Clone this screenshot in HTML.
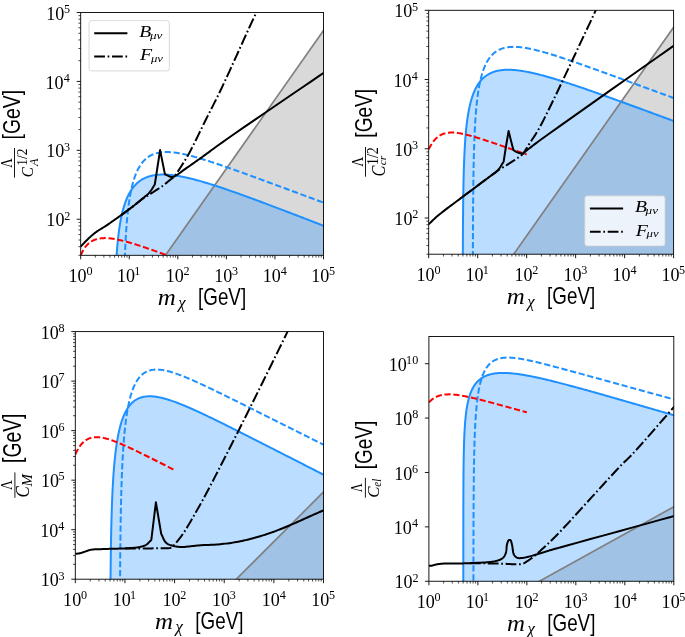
<!DOCTYPE html>
<html><head><meta charset="utf-8"><style>html,body{margin:0;padding:0;background:#fff;width:685px;height:637px;overflow:hidden}svg{display:block;will-change:transform}</style></head>
<body>
<svg width="685" height="637" viewBox="0 0 685 637">
<rect width="685" height="637" fill="#fff"/>
<defs>
<clipPath id="c0"><rect x="80.70" y="12.50" width="242.80" height="242.80"/></clipPath>
<clipPath id="c1"><rect x="428.70" y="10.30" width="244.90" height="243.90"/></clipPath>
<clipPath id="c2"><rect x="75.30" y="331.60" width="248.20" height="247.60"/></clipPath>
<clipPath id="c3"><rect x="428.90" y="336.50" width="244.90" height="244.75"/></clipPath>
</defs>
<g clip-path="url(#c0)">
<polygon points="161.28,261.30 340.37,6.50 723.50,6.50 723.50,261.30" fill="#808080" fill-opacity="0.3"/>
<path d="M113.82 275.98 L114.44 275.98 L115.07 275.98 L115.53 275.32 L115.60 273.76 L115.66 272.23 L115.73 270.72 L115.80 269.23 L115.87 267.75 L115.95 266.30 L116.02 264.87 L116.10 263.46 L116.18 262.06 L116.26 260.69 L116.34 259.33 L116.42 257.99 L116.51 256.66 L116.60 255.36 L116.69 254.07 L116.78 252.79 L116.87 251.54 L116.97 250.30 L117.06 249.07 L117.16 247.86 L117.26 246.66 L117.37 245.48 L117.47 244.32 L117.58 243.17 L117.69 242.03 L117.80 240.90 L117.91 239.80 L118.03 238.70 L118.15 237.62 L118.27 236.55 L118.39 235.49 L118.51 234.45 L118.64 233.42 L118.77 232.40 L118.90 231.39 L119.04 230.40 L119.17 229.41 L119.31 228.44 L119.45 227.49 L119.59 226.54 L119.74 225.60 L119.89 224.68 L120.04 223.77 L120.19 222.87 L120.34 221.97 L120.50 221.09 L120.66 220.23 L120.83 219.37 L120.99 218.52 L121.16 217.68 L121.33 216.85 L121.50 216.04 L121.68 215.23 L121.86 214.43 L122.04 213.64 L122.22 212.87 L122.41 212.10 L122.60 211.34 L122.79 210.59 L122.99 209.85 L123.18 209.12 L123.38 208.40 L123.59 207.69 L123.79 206.99 L124.00 206.29 L124.22 205.61 L124.43 204.93 L124.65 204.27 L124.87 203.61 L125.09 202.96 L125.32 202.32 L125.55 201.69 L125.78 201.06 L126.02 200.45 L126.26 199.84 L126.50 199.25 L126.75 198.66 L126.99 198.07 L127.25 197.50 L127.50 196.94 L127.76 196.38 L128.02 195.83 L128.28 195.29 L128.55 194.76 L128.82 194.23 L129.10 193.71 L129.38 193.20 L129.66 192.70 L129.94 192.21 L130.23 191.72 L130.52 191.24 L130.81 190.77 L131.11 190.31 L131.41 189.85 L131.72 189.40 L132.03 188.96 L132.34 188.52 L132.66 188.10 L132.97 187.68 L133.30 187.27 L133.62 186.86 L133.95 186.46 L134.29 186.07 L134.62 185.69 L134.97 185.31 L135.31 184.94 L135.66 184.58 L136.01 184.22 L136.37 183.88 L136.73 183.53 L137.09 183.20 L137.46 182.87 L137.83 182.55 L138.20 182.24 L138.58 181.93 L138.97 181.63 L139.35 181.33 L139.74 181.05 L140.14 180.76 L140.54 180.49 L140.94 180.22 L141.35 179.96 L141.76 179.71 L142.17 179.46 L142.59 179.22 L143.01 178.98 L143.44 178.75 L143.87 178.53 L144.31 178.31 L144.75 178.10 L145.19 177.90 L145.64 177.70 L146.09 177.51 L146.55 177.33 L147.01 177.15 L147.47 176.98 L147.94 176.81 L148.42 176.65 L148.90 176.50 L149.38 176.35 L149.87 176.21 L150.36 176.07 L150.85 175.94 L151.35 175.82 L151.86 175.70 L152.37 175.59 L152.88 175.48 L153.40 175.38 L153.92 175.29 L154.45 175.20 L154.98 175.12 L155.52 175.04 L156.06 174.97 L156.61 174.91 L157.16 174.85 L157.71 174.79 L158.27 174.75 L158.84 174.70 L159.41 174.67 L159.98 174.64 L160.56 174.61 L161.15 174.59 L161.74 174.58 L162.33 174.57 L162.93 174.56 L163.53 174.57 L164.14 174.57 L164.75 174.59 L165.37 174.61 L166.00 174.63 L166.63 174.66 L167.26 174.69 L167.90 174.73 L168.54 174.78 L169.19 174.83 L169.84 174.88 L170.50 174.95 L171.17 175.01 L171.84 175.08 L172.51 175.16 L173.19 175.24 L173.88 175.33 L174.57 175.42 L175.26 175.52 L175.96 175.62 L176.67 175.72 L177.38 175.84 L178.10 175.95 L178.82 176.07 L179.55 176.20 L180.28 176.33 L181.02 176.47 L181.76 176.61 L182.51 176.76 L183.27 176.91 L184.03 177.06 L184.79 177.22 L185.56 177.39 L186.34 177.56 L187.12 177.73 L187.91 177.91 L188.71 178.09 L189.50 178.28 L190.31 178.48 L191.12 178.67 L191.94 178.88 L192.76 179.08 L193.59 179.29 L194.42 179.51 L195.26 179.73 L196.11 179.95 L196.96 180.18 L197.81 180.42 L198.68 180.65 L199.55 180.90 L200.42 181.14 L201.30 181.39 L202.19 181.65 L203.08 181.91 L203.98 182.17 L204.88 182.44 L205.79 182.71 L206.71 182.99 L207.63 183.27 L208.56 183.55 L209.50 183.84 L210.44 184.14 L211.39 184.43 L212.34 184.73 L213.30 185.04 L214.26 185.35 L215.24 185.66 L216.21 185.98 L217.20 186.30 L218.19 186.62 L219.19 186.95 L220.19 187.29 L221.20 187.62 L222.22 187.96 L223.24 188.31 L224.27 188.66 L225.30 189.01 L226.35 189.37 L227.39 189.73 L228.45 190.09 L229.51 190.46 L230.58 190.83 L231.65 191.20 L232.73 191.58 L233.82 191.96 L234.92 192.35 L236.02 192.74 L237.12 193.13 L238.24 193.53 L239.36 193.93 L240.49 194.34 L241.62 194.74 L242.76 195.16 L243.91 195.57 L245.06 195.99 L246.23 196.41 L247.39 196.84 L248.57 197.27 L249.75 197.70 L250.94 198.14 L252.14 198.58 L253.34 199.02 L254.55 199.47 L255.76 199.92 L256.99 200.37 L258.22 200.83 L259.46 201.29 L260.70 201.75 L261.95 202.22 L263.21 202.69 L264.48 203.17 L265.75 203.64 L267.03 204.12 L268.32 204.61 L269.61 205.10 L270.91 205.59 L272.22 206.08 L273.54 206.58 L274.86 207.08 L276.19 207.59 L277.53 208.09 L278.88 208.60 L280.23 209.12 L281.59 209.64 L282.96 210.16 L284.33 210.68 L285.72 211.21 L287.11 211.74 L288.50 212.28 L289.91 212.81 L291.32 213.35 L292.74 213.90 L294.17 214.45 L295.60 215.00 L297.05 215.55 L298.50 216.11 L299.96 216.67 L301.42 217.23 L302.89 217.80 L304.38 218.37 L305.86 218.94 L307.36 219.52 L308.86 220.10 L310.38 220.68 L311.90 221.27 L313.42 221.86 L314.96 222.45 L316.50 223.05 L318.05 223.65 L319.61 224.25 L321.18 224.86 L322.75 225.47 L324.34 226.08 L325.93 226.70 L328.50 226.70 L328.50 260.30 L113.82 260.30 Z" fill="#1e90ff" fill-opacity="0.3"/>
<line x1="161.28" y1="261.30" x2="340.37" y2="6.50" stroke="#808080" stroke-width="1.7"/>
<path d="M113.82 275.98 L114.44 275.98 L115.07 275.98 L115.53 275.32 L115.60 273.76 L115.66 272.23 L115.73 270.72 L115.80 269.23 L115.87 267.75 L115.95 266.30 L116.02 264.87 L116.10 263.46 L116.18 262.06 L116.26 260.69 L116.34 259.33 L116.42 257.99 L116.51 256.66 L116.60 255.36 L116.69 254.07 L116.78 252.79 L116.87 251.54 L116.97 250.30 L117.06 249.07 L117.16 247.86 L117.26 246.66 L117.37 245.48 L117.47 244.32 L117.58 243.17 L117.69 242.03 L117.80 240.90 L117.91 239.80 L118.03 238.70 L118.15 237.62 L118.27 236.55 L118.39 235.49 L118.51 234.45 L118.64 233.42 L118.77 232.40 L118.90 231.39 L119.04 230.40 L119.17 229.41 L119.31 228.44 L119.45 227.49 L119.59 226.54 L119.74 225.60 L119.89 224.68 L120.04 223.77 L120.19 222.87 L120.34 221.97 L120.50 221.09 L120.66 220.23 L120.83 219.37 L120.99 218.52 L121.16 217.68 L121.33 216.85 L121.50 216.04 L121.68 215.23 L121.86 214.43 L122.04 213.64 L122.22 212.87 L122.41 212.10 L122.60 211.34 L122.79 210.59 L122.99 209.85 L123.18 209.12 L123.38 208.40 L123.59 207.69 L123.79 206.99 L124.00 206.29 L124.22 205.61 L124.43 204.93 L124.65 204.27 L124.87 203.61 L125.09 202.96 L125.32 202.32 L125.55 201.69 L125.78 201.06 L126.02 200.45 L126.26 199.84 L126.50 199.25 L126.75 198.66 L126.99 198.07 L127.25 197.50 L127.50 196.94 L127.76 196.38 L128.02 195.83 L128.28 195.29 L128.55 194.76 L128.82 194.23 L129.10 193.71 L129.38 193.20 L129.66 192.70 L129.94 192.21 L130.23 191.72 L130.52 191.24 L130.81 190.77 L131.11 190.31 L131.41 189.85 L131.72 189.40 L132.03 188.96 L132.34 188.52 L132.66 188.10 L132.97 187.68 L133.30 187.27 L133.62 186.86 L133.95 186.46 L134.29 186.07 L134.62 185.69 L134.97 185.31 L135.31 184.94 L135.66 184.58 L136.01 184.22 L136.37 183.88 L136.73 183.53 L137.09 183.20 L137.46 182.87 L137.83 182.55 L138.20 182.24 L138.58 181.93 L138.97 181.63 L139.35 181.33 L139.74 181.05 L140.14 180.76 L140.54 180.49 L140.94 180.22 L141.35 179.96 L141.76 179.71 L142.17 179.46 L142.59 179.22 L143.01 178.98 L143.44 178.75 L143.87 178.53 L144.31 178.31 L144.75 178.10 L145.19 177.90 L145.64 177.70 L146.09 177.51 L146.55 177.33 L147.01 177.15 L147.47 176.98 L147.94 176.81 L148.42 176.65 L148.90 176.50 L149.38 176.35 L149.87 176.21 L150.36 176.07 L150.85 175.94 L151.35 175.82 L151.86 175.70 L152.37 175.59 L152.88 175.48 L153.40 175.38 L153.92 175.29 L154.45 175.20 L154.98 175.12 L155.52 175.04 L156.06 174.97 L156.61 174.91 L157.16 174.85 L157.71 174.79 L158.27 174.75 L158.84 174.70 L159.41 174.67 L159.98 174.64 L160.56 174.61 L161.15 174.59 L161.74 174.58 L162.33 174.57 L162.93 174.56 L163.53 174.57 L164.14 174.57 L164.75 174.59 L165.37 174.61 L166.00 174.63 L166.63 174.66 L167.26 174.69 L167.90 174.73 L168.54 174.78 L169.19 174.83 L169.84 174.88 L170.50 174.95 L171.17 175.01 L171.84 175.08 L172.51 175.16 L173.19 175.24 L173.88 175.33 L174.57 175.42 L175.26 175.52 L175.96 175.62 L176.67 175.72 L177.38 175.84 L178.10 175.95 L178.82 176.07 L179.55 176.20 L180.28 176.33 L181.02 176.47 L181.76 176.61 L182.51 176.76 L183.27 176.91 L184.03 177.06 L184.79 177.22 L185.56 177.39 L186.34 177.56 L187.12 177.73 L187.91 177.91 L188.71 178.09 L189.50 178.28 L190.31 178.48 L191.12 178.67 L191.94 178.88 L192.76 179.08 L193.59 179.29 L194.42 179.51 L195.26 179.73 L196.11 179.95 L196.96 180.18 L197.81 180.42 L198.68 180.65 L199.55 180.90 L200.42 181.14 L201.30 181.39 L202.19 181.65 L203.08 181.91 L203.98 182.17 L204.88 182.44 L205.79 182.71 L206.71 182.99 L207.63 183.27 L208.56 183.55 L209.50 183.84 L210.44 184.14 L211.39 184.43 L212.34 184.73 L213.30 185.04 L214.26 185.35 L215.24 185.66 L216.21 185.98 L217.20 186.30 L218.19 186.62 L219.19 186.95 L220.19 187.29 L221.20 187.62 L222.22 187.96 L223.24 188.31 L224.27 188.66 L225.30 189.01 L226.35 189.37 L227.39 189.73 L228.45 190.09 L229.51 190.46 L230.58 190.83 L231.65 191.20 L232.73 191.58 L233.82 191.96 L234.92 192.35 L236.02 192.74 L237.12 193.13 L238.24 193.53 L239.36 193.93 L240.49 194.34 L241.62 194.74 L242.76 195.16 L243.91 195.57 L245.06 195.99 L246.23 196.41 L247.39 196.84 L248.57 197.27 L249.75 197.70 L250.94 198.14 L252.14 198.58 L253.34 199.02 L254.55 199.47 L255.76 199.92 L256.99 200.37 L258.22 200.83 L259.46 201.29 L260.70 201.75 L261.95 202.22 L263.21 202.69 L264.48 203.17 L265.75 203.64 L267.03 204.12 L268.32 204.61 L269.61 205.10 L270.91 205.59 L272.22 206.08 L273.54 206.58 L274.86 207.08 L276.19 207.59 L277.53 208.09 L278.88 208.60 L280.23 209.12 L281.59 209.64 L282.96 210.16 L284.33 210.68 L285.72 211.21 L287.11 211.74 L288.50 212.28 L289.91 212.81 L291.32 213.35 L292.74 213.90 L294.17 214.45 L295.60 215.00 L297.05 215.55 L298.50 216.11 L299.96 216.67 L301.42 217.23 L302.89 217.80 L304.38 218.37 L305.86 218.94 L307.36 219.52 L308.86 220.10 L310.38 220.68 L311.90 221.27 L313.42 221.86 L314.96 222.45 L316.50 223.05 L318.05 223.65 L319.61 224.25 L321.18 224.86 L322.75 225.47 L324.34 226.08 L325.93 226.70" fill="none" stroke="#1e90ff" stroke-width="2.00" stroke-linejoin="round"/>
<path d="M123.20 275.98 L123.82 275.98 L124.34 274.76 L124.39 272.79 L124.44 270.86 L124.49 268.95 L124.54 267.07 L124.60 265.22 L124.65 263.40 L124.71 261.60 L124.77 259.83 L124.83 258.09 L124.89 256.37 L124.96 254.67 L125.02 253.00 L125.09 251.35 L125.16 249.72 L125.23 248.12 L125.30 246.54 L125.37 244.98 L125.45 243.44 L125.52 241.92 L125.60 240.43 L125.68 238.95 L125.76 237.49 L125.85 236.05 L125.93 234.63 L126.02 233.23 L126.11 231.85 L126.20 230.49 L126.29 229.14 L126.39 227.81 L126.49 226.50 L126.58 225.20 L126.69 223.93 L126.79 222.66 L126.89 221.42 L127.00 220.19 L127.11 218.97 L127.22 217.78 L127.33 216.59 L127.45 215.43 L127.56 214.27 L127.68 213.13 L127.80 212.01 L127.93 210.90 L128.05 209.81 L128.18 208.72 L128.31 207.66 L128.44 206.60 L128.58 205.56 L128.71 204.54 L128.85 203.52 L128.99 202.52 L129.14 201.53 L129.28 200.56 L129.43 199.60 L129.58 198.65 L129.74 197.71 L129.89 196.78 L130.05 195.87 L130.21 194.97 L130.37 194.08 L130.54 193.20 L130.71 192.34 L130.88 191.48 L131.05 190.64 L131.23 189.81 L131.40 188.99 L131.59 188.18 L131.77 187.38 L131.96 186.59 L132.14 185.81 L132.34 185.05 L132.53 184.29 L132.73 183.55 L132.93 182.81 L133.13 182.09 L133.34 181.38 L133.54 180.67 L133.76 179.98 L133.97 179.30 L134.19 178.63 L134.41 177.96 L134.63 177.31 L134.85 176.67 L135.08 176.03 L135.31 175.41 L135.55 174.79 L135.79 174.19 L136.03 173.59 L136.27 173.01 L136.52 172.43 L136.77 171.86 L137.02 171.31 L137.28 170.76 L137.53 170.22 L137.80 169.69 L138.06 169.16 L138.33 168.65 L138.60 168.15 L138.88 167.65 L139.16 167.17 L139.44 166.69 L139.72 166.22 L140.01 165.76 L140.30 165.31 L140.60 164.86 L140.90 164.43 L141.20 164.00 L141.50 163.58 L141.81 163.17 L142.12 162.77 L142.44 162.38 L142.76 161.99 L143.08 161.61 L143.41 161.25 L143.73 160.88 L144.07 160.53 L144.40 160.18 L144.74 159.85 L145.09 159.52 L145.44 159.20 L145.79 158.88 L146.14 158.57 L146.50 158.27 L146.86 157.98 L147.23 157.70 L147.60 157.42 L147.97 157.15 L148.35 156.89 L148.73 156.64 L149.11 156.39 L149.50 156.15 L149.90 155.92 L150.29 155.69 L150.69 155.48 L151.10 155.27 L151.51 155.06 L151.92 154.87 L152.33 154.68 L152.75 154.49 L153.18 154.32 L154.04 153.99 L154.92 153.68 L155.81 153.40 L156.72 153.15 L157.65 152.93 L158.59 152.73 L159.55 152.55 L160.53 152.41 L161.52 152.28 L162.54 152.18 L163.57 152.11 L164.62 152.06 L165.68 152.03 L166.77 152.02 L167.87 152.04 L168.99 152.08 L170.13 152.14 L170.71 152.18 L171.29 152.23 L171.88 152.28 L172.47 152.33 L173.07 152.39 L173.67 152.46 L174.27 152.53 L174.88 152.61 L175.50 152.69 L176.12 152.77 L176.74 152.86 L177.37 152.96 L178.01 153.06 L178.65 153.17 L179.29 153.28 L179.94 153.40 L180.60 153.52 L181.26 153.64 L181.92 153.77 L182.59 153.91 L183.27 154.05 L183.95 154.19 L184.63 154.34 L185.32 154.49 L186.02 154.65 L186.72 154.81 L187.42 154.98 L188.13 155.15 L188.85 155.33 L189.57 155.51 L190.30 155.69 L191.03 155.88 L191.77 156.07 L192.51 156.27 L193.26 156.47 L194.01 156.67 L194.77 156.88 L195.53 157.10 L196.30 157.31 L197.08 157.53 L197.86 157.76 L198.65 157.99 L199.44 158.22 L200.23 158.46 L201.04 158.70 L201.84 158.94 L202.66 159.19 L203.48 159.44 L204.30 159.70 L205.13 159.95 L205.97 160.22 L206.81 160.48 L207.66 160.75 L208.51 161.03 L209.37 161.30 L210.23 161.58 L211.10 161.87 L211.98 162.15 L212.86 162.44 L213.75 162.74 L214.64 163.03 L215.54 163.34 L216.45 163.64 L217.36 163.95 L218.28 164.26 L219.20 164.57 L220.13 164.89 L221.06 165.21 L222.00 165.53 L222.95 165.86 L223.90 166.19 L224.86 166.52 L225.83 166.86 L226.80 167.19 L227.78 167.54 L228.76 167.88 L229.75 168.23 L230.75 168.58 L231.75 168.94 L232.76 169.29 L233.77 169.65 L234.79 170.02 L235.82 170.38 L236.85 170.75 L237.89 171.12 L238.94 171.50 L239.99 171.88 L241.05 172.26 L242.11 172.64 L243.18 173.03 L244.26 173.42 L245.35 173.81 L246.44 174.20 L247.53 174.60 L248.64 175.00 L249.75 175.40 L250.86 175.81 L251.99 176.22 L253.12 176.63 L254.25 177.05 L255.40 177.46 L256.55 177.88 L257.70 178.31 L258.87 178.73 L260.03 179.16 L261.21 179.59 L262.39 180.03 L263.58 180.46 L264.78 180.90 L265.98 181.35 L267.19 181.79 L268.41 182.24 L269.63 182.69 L270.86 183.14 L272.10 183.60 L273.35 184.06 L274.60 184.52 L275.86 184.98 L277.12 185.45 L278.39 185.92 L279.67 186.39 L280.96 186.87 L282.25 187.35 L283.55 187.83 L284.86 188.31 L286.17 188.80 L287.49 189.29 L288.82 189.78 L290.16 190.27 L291.50 190.77 L292.85 191.27 L294.21 191.77 L295.57 192.28 L296.94 192.79 L298.32 193.30 L299.71 193.81 L301.10 194.33 L302.50 194.85 L303.91 195.37 L305.33 195.90 L306.75 196.42 L308.18 196.96 L309.62 197.49 L311.06 198.03 L312.52 198.56 L313.98 199.11 L315.44 199.65 L316.92 200.20 L318.40 200.75 L319.89 201.30 L321.39 201.86 L322.89 202.42 L324.41 202.98 L325.93 203.54" fill="none" stroke="#1e90ff" stroke-width="2.00" stroke-dasharray="6.22 2.69"/>
<path d="M80.70 255.53 L81.19 254.36 L81.68 253.27 L82.16 252.25 L82.65 251.30 L83.14 250.41 L83.63 249.58 L84.12 248.80 L84.60 248.07 L85.09 247.39 L85.58 246.74 L86.07 246.14 L86.56 245.57 L87.04 245.03 L87.53 244.53 L88.02 244.06 L88.51 243.61 L89.00 243.19 L89.48 242.80 L89.97 242.43 L90.46 242.08 L90.95 241.75 L91.44 241.44 L91.92 241.16 L92.41 240.89 L92.90 240.63 L93.39 240.40 L93.88 240.18 L94.37 239.97 L94.85 239.78 L95.34 239.60 L95.83 239.43 L96.32 239.28 L96.81 239.14 L97.29 239.01 L97.78 238.89 L98.76 238.68 L99.73 238.51 L100.71 238.37 L101.69 238.26 L102.66 238.19 L103.64 238.14 L104.61 238.12 L105.59 238.12 L106.57 238.15 L107.54 238.19 L108.52 238.26 L109.49 238.34 L110.47 238.44 L111.45 238.56 L112.42 238.69 L113.40 238.83 L114.37 238.98 L115.35 239.15 L116.33 239.33 L117.30 239.52 L118.28 239.72 L119.26 239.93 L120.23 240.15 L120.72 240.26 L121.21 240.37 L121.70 240.49 L122.18 240.61 L122.67 240.73 L123.16 240.85 L123.65 240.97 L124.14 241.10 L124.62 241.22 L125.11 241.35 L125.60 241.48 L126.09 241.61 L126.58 241.74 L127.06 241.88 L127.55 242.01 L128.04 242.15 L128.53 242.29 L129.02 242.43 L129.50 242.57 L129.99 242.71 L130.48 242.85 L130.97 243.00 L131.46 243.14 L131.94 243.29 L132.43 243.43 L132.92 243.58 L133.41 243.73 L133.90 243.88 L134.38 244.03 L134.87 244.18 L135.36 244.33 L135.85 244.49 L136.34 244.64 L136.82 244.80 L137.31 244.95 L137.80 245.11 L138.29 245.26 L138.78 245.42 L139.26 245.58 L139.75 245.74 L140.24 245.90 L140.73 246.06 L141.22 246.22 L141.71 246.38 L142.19 246.54 L142.68 246.71 L143.17 246.87 L143.66 247.03 L144.15 247.20 L144.63 247.36 L145.12 247.53 L145.61 247.69 L146.10 247.86 L146.59 248.03 L147.07 248.20 L147.56 248.36 L148.05 248.53 L148.54 248.70 L149.03 248.87 L149.51 249.04 L150.00 249.21 L150.49 249.38 L150.98 249.55 L151.47 249.72 L151.95 249.89 L152.44 250.06 L152.93 250.23 L153.42 250.40 L153.91 250.57 L154.39 250.75 L154.88 250.92 L155.37 251.09 L155.86 251.27 L156.35 251.44 L156.83 251.61 L157.32 251.79 L157.81 251.96 L158.30 252.14 L158.79 252.31 L159.27 252.49 L159.76 252.66 L160.25 252.84 L160.74 253.01 L161.23 253.19 L161.71 253.36 L162.20 253.54 L162.69 253.72 L163.18 253.89 L163.67 254.07 L164.15 254.25 L164.64 254.42 L165.13 254.60 L165.62 254.78 L166.11 254.96 L166.60 255.13 L167.08 255.31 L167.57 255.49 L168.06 255.67 L168.55 255.85 L169.04 256.02 L169.52 256.20 L170.01 256.38 L170.50 256.56 L170.99 256.74 L171.48 256.92 L171.96 257.10 L172.45 257.28 L172.94 257.45 L173.43 257.63 L173.92 257.81 L174.40 257.99 L174.89 258.17 L175.38 258.35 L175.87 258.53 L176.36 258.71 L176.84 258.89 L177.33 259.07 L177.82 259.25" fill="none" stroke="#ff0000" stroke-width="2.00" stroke-dasharray="6.22 2.69"/>
<path d="M80.70 246.50 L81.46 245.71 L82.22 244.92 L82.98 244.12 L83.73 243.32 L84.49 242.52 L85.25 241.73 L86.01 240.95 L86.77 240.18 L87.54 239.43 L88.30 238.70 L89.01 238.04 L89.71 237.39 L90.40 236.75 L91.09 236.13 L91.78 235.52 L92.49 234.91 L93.21 234.30 L93.94 233.70 L94.71 233.10 L95.50 232.50 L96.44 231.82 L97.40 231.16 L98.39 230.52 L99.40 229.88 L100.43 229.24 L101.49 228.60 L102.56 227.93 L103.66 227.25 L104.77 226.54 L105.90 225.80 L107.34 224.83 L108.85 223.80 L110.40 222.74 L111.99 221.64 L113.59 220.52 L115.21 219.39 L116.82 218.25 L118.42 217.11 L119.98 216.00 L121.50 214.90 L122.92 213.87 L124.35 212.83 L125.79 211.77 L127.22 210.71 L128.63 209.67 L130.01 208.63 L131.35 207.62 L132.64 206.64 L133.86 205.70 L135.00 204.80 L135.76 204.19 L136.47 203.62 L137.15 203.06 L137.80 202.52 L138.43 202.00 L139.05 201.47 L139.67 200.95 L140.29 200.41 L140.93 199.87 L141.60 199.30 L142.36 198.67 L143.14 198.05 L143.94 197.42 L144.74 196.79 L145.55 196.15 L146.35 195.50 L147.13 194.83 L147.89 194.14 L148.61 193.43 L149.30 192.70 L149.93 191.95 L150.53 191.17 L151.10 190.36 L151.65 189.54 L152.18 188.70 L152.70 187.86 L153.22 187.01 L153.73 186.17 L154.26 185.33 L154.80 184.50 L160.10 150.10 L164.90 174.10 L165.21 174.26 L165.52 174.42 L165.82 174.59 L166.13 174.75 L166.44 174.92 L166.75 175.08 L167.06 175.24 L167.37 175.40 L167.68 175.55 L168.00 175.70 L168.32 175.85 L168.65 176.01 L168.97 176.18 L169.30 176.34 L169.63 176.50 L169.97 176.64 L170.30 176.77 L170.63 176.88 L170.97 176.95 L171.30 177.00 L171.62 177.02 L171.93 177.02 L172.24 177.00 L172.55 176.96 L172.86 176.90 L173.17 176.82 L173.50 176.72 L173.85 176.60 L174.21 176.46 L174.60 176.30 L175.42 175.90 L176.31 175.38 L177.27 174.75 L178.29 174.04 L179.35 173.27 L180.45 172.45 L181.58 171.60 L182.72 170.75 L183.86 169.91 L185.00 169.10 L186.37 168.15 L187.76 167.18 L189.18 166.20 L190.62 165.20 L192.09 164.17 L193.59 163.12 L195.13 162.04 L196.71 160.93 L198.33 159.79 L200.00 158.60 L202.21 157.01 L204.42 155.40 L206.65 153.76 L208.94 152.08 L211.32 150.32 L213.82 148.49 L216.46 146.55 L219.28 144.50 L222.32 142.33 L225.60 140.00 L233.45 134.52 L243.37 127.66 L254.75 119.84 L266.98 111.48 L279.43 102.98 L291.49 94.76 L302.55 87.24 L311.98 80.83 L319.17 75.95 L323.50 73.00 L323.90 72.73 L324.23 72.50 L324.52 72.31 L324.76 72.14 L324.98 72.00 L325.17 71.86 L325.36 71.73 L325.56 71.60 L325.77 71.46 L326.00 71.30" fill="none" stroke="#000" stroke-width="2.00" stroke-linejoin="round"/>
<path d="M121.50 214.90 L122.87 213.88 L124.28 212.83 L125.70 211.77 L127.14 210.71 L128.56 209.66 L129.95 208.62 L131.31 207.60 L132.61 206.62 L133.85 205.69 L135.00 204.80 L135.76 204.20 L136.49 203.62 L137.19 203.05 L137.85 202.49 L138.50 201.95 L139.13 201.43 L139.75 200.92 L140.37 200.43 L140.98 199.96 L141.60 199.50 L142.11 199.14 L142.60 198.79 L143.09 198.47 L143.57 198.15 L144.05 197.85 L144.52 197.54 L145.00 197.24 L145.49 196.94 L145.99 196.62 L146.50 196.30 L147.09 195.93 L147.71 195.54 L148.34 195.15 L148.98 194.75 L149.62 194.36 L150.26 193.96 L150.89 193.58 L151.49 193.20 L152.06 192.84 L152.60 192.50 L152.97 192.26 L153.31 192.04 L153.63 191.82 L153.94 191.62 L154.24 191.41 L154.55 191.21 L154.86 191.00 L155.18 190.78 L155.53 190.55 L155.90 190.30 L156.47 189.93 L157.07 189.55 L157.70 189.15 L158.36 188.74 L159.04 188.31 L159.73 187.87 L160.43 187.42 L161.13 186.96 L161.82 186.48 L162.50 186.00 L163.27 185.43 L164.05 184.82 L164.85 184.18 L165.66 183.53 L166.46 182.86 L167.25 182.20 L168.03 181.56 L168.79 180.93 L169.51 180.34 L170.20 179.80 L170.69 179.42 L171.15 179.07 L171.60 178.73 L172.04 178.40 L172.47 178.08 L172.90 177.77 L173.32 177.45 L173.74 177.14 L174.17 176.82 L174.60 176.50 L175.01 175.87 L175.41 175.27 L175.81 174.67 L176.20 174.08 L176.60 173.49 L177.00 172.88 L177.42 172.24 L177.86 171.57 L178.31 170.86 L178.80 170.10 L179.62 168.82 L180.50 167.45 L181.43 166.00 L182.40 164.48 L183.41 162.89 L184.44 161.23 L185.50 159.51 L186.56 157.72 L187.63 155.89 L188.70 154.00 L190.19 151.26 L191.72 148.33 L193.30 145.24 L194.90 142.02 L196.53 138.71 L198.17 135.35 L199.81 131.96 L201.46 128.58 L203.09 125.25 L204.70 122.00 L206.30 118.81 L207.91 115.62 L209.52 112.45 L211.12 109.27 L212.73 106.10 L214.34 102.91 L215.94 99.71 L217.53 96.50 L219.12 93.26 L220.70 90.00 L222.33 86.58 L223.96 83.12 L225.59 79.62 L227.21 76.10 L228.83 72.57 L230.44 69.05 L232.03 65.55 L233.61 62.08 L235.17 58.66 L236.70 55.30 L238.10 52.23 L239.50 49.14 L240.90 46.05 L242.29 42.98 L243.66 39.94 L245.01 36.97 L246.32 34.06 L247.59 31.25 L248.82 28.56 L250.00 26.00 L250.86 24.14 L251.74 22.27 L252.62 20.41 L253.49 18.59 L254.32 16.83 L255.11 15.17 L255.84 13.63 L256.49 12.24 L257.05 11.02 L257.50 10.00 L257.64 9.66 L257.77 9.37 L257.88 9.10 L257.98 8.85 L258.07 8.62 L258.15 8.40 L258.23 8.18 L258.32 7.97 L258.40 7.74 L258.50 7.50" fill="none" stroke="#000" stroke-width="2.00" stroke-dasharray="10.75 2.69 1.68 2.69"/>
</g>
<rect x="80.70" y="12.50" width="242.80" height="242.80" fill="none" stroke="#000" stroke-width="0.9"/>
<path d="M80.70 255.30V259.30M129.26 255.30V259.30M177.82 255.30V259.30M226.38 255.30V259.30M274.94 255.30V259.30M323.50 255.30V259.30M80.70 219.26H76.70M80.70 150.34H76.70M80.70 81.42H76.70M80.70 12.50H76.70" stroke="#000" stroke-width="0.9" fill="none"/>
<path d="M95.32 255.30V257.60M103.87 255.30V257.60M109.94 255.30V257.60M114.64 255.30V257.60M118.49 255.30V257.60M121.74 255.30V257.60M124.55 255.30V257.60M127.04 255.30V257.60M143.88 255.30V257.60M152.43 255.30V257.60M158.50 255.30V257.60M163.20 255.30V257.60M167.05 255.30V257.60M170.30 255.30V257.60M173.11 255.30V257.60M175.60 255.30V257.60M192.44 255.30V257.60M200.99 255.30V257.60M207.06 255.30V257.60M211.76 255.30V257.60M215.61 255.30V257.60M218.86 255.30V257.60M221.67 255.30V257.60M224.16 255.30V257.60M241.00 255.30V257.60M249.55 255.30V257.60M255.62 255.30V257.60M260.32 255.30V257.60M264.17 255.30V257.60M267.42 255.30V257.60M270.23 255.30V257.60M272.72 255.30V257.60M289.56 255.30V257.60M298.11 255.30V257.60M304.18 255.30V257.60M308.88 255.30V257.60M312.73 255.30V257.60M315.98 255.30V257.60M318.79 255.30V257.60M321.28 255.30V257.60M80.70 255.30H78.40M80.70 246.69H78.40M80.70 240.01H78.40M80.70 234.55H78.40M80.70 229.94H78.40M80.70 225.94H78.40M80.70 222.42H78.40M80.70 198.52H78.40M80.70 186.38H78.40M80.70 177.77H78.40M80.70 171.09H78.40M80.70 165.63H78.40M80.70 161.02H78.40M80.70 157.02H78.40M80.70 153.50H78.40M80.70 129.59H78.40M80.70 117.46H78.40M80.70 108.85H78.40M80.70 102.17H78.40M80.70 96.71H78.40M80.70 92.10H78.40M80.70 88.10H78.40M80.70 84.57H78.40M80.70 60.67H78.40M80.70 48.54H78.40M80.70 39.93H78.40M80.70 33.25H78.40M80.70 27.79H78.40M80.70 23.18H78.40M80.70 19.18H78.40M80.70 15.65H78.40" stroke="#000" stroke-width="0.7" fill="none"/>
<g clip-path="url(#c1)">
<polygon points="509.47,260.20 689.89,4.30 1073.60,4.30 1073.60,260.20" fill="#808080" fill-opacity="0.3"/>
<path d="M462.73 274.97 L462.80 273.83 L462.80 269.75 L462.81 265.82 L462.82 262.02 L462.83 258.35 L462.84 254.80 L462.85 251.35 L462.86 248.01 L462.87 244.77 L462.89 241.62 L462.90 238.56 L462.91 235.58 L462.93 232.68 L462.95 229.85 L462.96 227.09 L462.98 224.41 L463.00 221.78 L463.02 219.22 L463.04 216.72 L463.06 214.27 L463.08 211.88 L463.10 209.53 L463.13 207.24 L463.15 205.00 L463.18 202.80 L463.20 200.65 L463.23 198.53 L463.26 196.46 L463.29 194.43 L463.32 192.44 L463.35 190.48 L463.39 188.56 L463.42 186.68 L463.46 184.82 L463.49 183.00 L463.53 181.21 L463.57 179.46 L463.61 177.73 L463.65 176.03 L463.70 174.35 L463.74 172.71 L463.79 171.09 L463.83 169.50 L463.88 167.93 L463.93 166.38 L463.98 164.86 L464.04 163.36 L464.09 161.89 L464.15 160.44 L464.20 159.00 L464.26 157.59 L464.32 156.20 L464.39 154.83 L464.45 153.48 L464.51 152.15 L464.58 150.83 L464.65 149.54 L464.72 148.26 L464.79 147.00 L464.87 145.76 L464.94 144.53 L465.02 143.32 L465.10 142.13 L465.18 140.95 L465.26 139.79 L465.35 138.64 L465.43 137.51 L465.52 136.40 L465.61 135.29 L465.70 134.21 L465.80 133.13 L465.89 132.07 L465.99 131.02 L466.09 129.99 L466.19 128.97 L466.29 127.96 L466.40 126.97 L466.51 125.99 L466.62 125.02 L466.73 124.06 L466.84 123.11 L466.96 122.18 L467.08 121.26 L467.20 120.34 L467.32 119.44 L467.45 118.56 L467.58 117.68 L467.71 116.81 L467.84 115.96 L467.97 115.11 L468.11 114.28 L468.25 113.45 L468.39 112.64 L468.53 111.83 L468.68 111.04 L468.83 110.26 L468.98 109.48 L469.13 108.72 L469.29 107.96 L469.45 107.22 L469.61 106.48 L469.77 105.75 L469.94 105.04 L470.11 104.33 L470.28 103.63 L470.45 102.94 L470.63 102.26 L470.81 101.58 L470.99 100.92 L471.18 100.26 L471.37 99.62 L471.56 98.98 L471.75 98.35 L471.95 97.72 L472.14 97.11 L472.35 96.50 L472.55 95.91 L472.76 95.32 L472.97 94.74 L473.18 94.16 L473.40 93.60 L473.62 93.04 L473.84 92.49 L474.06 91.94 L474.29 91.41 L474.52 90.88 L474.76 90.36 L475.00 89.85 L475.24 89.34 L475.48 88.85 L475.73 88.36 L475.98 87.87 L476.23 87.40 L476.49 86.93 L476.74 86.47 L477.01 86.01 L477.27 85.56 L477.54 85.12 L477.82 84.69 L478.09 84.26 L478.37 83.84 L478.65 83.43 L478.94 83.03 L479.23 82.63 L479.52 82.23 L479.82 81.85 L480.12 81.47 L480.42 81.10 L480.73 80.73 L481.04 80.37 L481.35 80.02 L481.67 79.67 L481.99 79.33 L482.32 79.00 L482.64 78.67 L482.98 78.35 L483.31 78.04 L483.65 77.73 L483.99 77.43 L484.34 77.13 L484.69 76.84 L485.04 76.56 L485.40 76.28 L485.76 76.01 L486.13 75.75 L486.50 75.49 L486.87 75.24 L487.25 74.99 L487.63 74.75 L488.02 74.52 L488.41 74.29 L488.80 74.07 L489.20 73.85 L489.60 73.64 L490.00 73.43 L490.41 73.24 L490.82 73.04 L491.24 72.85 L491.66 72.67 L492.09 72.50 L492.95 72.16 L493.83 71.85 L494.73 71.56 L495.64 71.29 L496.57 71.05 L497.52 70.83 L498.49 70.62 L499.47 70.45 L500.47 70.29 L501.49 70.15 L502.53 70.03 L503.59 69.94 L504.66 69.87 L505.76 69.81 L506.87 69.78 L508.00 69.77 L509.15 69.77 L510.32 69.80 L510.92 69.82 L511.51 69.85 L512.12 69.88 L512.72 69.91 L513.34 69.96 L513.95 70.00 L514.58 70.05 L515.20 70.11 L515.83 70.17 L516.47 70.23 L517.11 70.30 L517.76 70.37 L518.41 70.45 L519.07 70.54 L519.73 70.62 L520.40 70.72 L521.08 70.81 L521.75 70.92 L522.44 71.02 L523.13 71.13 L523.82 71.25 L524.52 71.37 L525.23 71.49 L525.94 71.62 L526.65 71.76 L527.37 71.89 L528.10 72.04 L528.83 72.18 L529.57 72.33 L530.31 72.49 L531.06 72.65 L531.81 72.81 L532.57 72.98 L533.34 73.16 L534.11 73.33 L534.88 73.51 L535.66 73.70 L536.45 73.89 L537.24 74.08 L538.04 74.28 L538.85 74.48 L539.65 74.69 L540.47 74.90 L541.29 75.11 L542.12 75.33 L542.95 75.55 L543.79 75.78 L544.63 76.01 L545.48 76.24 L546.34 76.48 L547.20 76.72 L548.07 76.97 L548.94 77.22 L549.82 77.47 L550.71 77.73 L551.60 77.99 L552.50 78.26 L553.40 78.53 L554.31 78.80 L555.23 79.08 L556.15 79.36 L557.08 79.64 L558.01 79.93 L558.95 80.22 L559.90 80.52 L560.85 80.82 L561.81 81.12 L562.78 81.42 L563.75 81.73 L564.72 82.05 L565.71 82.37 L566.70 82.69 L567.69 83.01 L568.70 83.34 L569.71 83.67 L570.72 84.00 L571.74 84.34 L572.77 84.68 L573.81 85.03 L574.85 85.38 L575.90 85.73 L576.95 86.09 L578.01 86.45 L579.08 86.81 L580.15 87.17 L581.23 87.54 L582.32 87.92 L583.41 88.29 L584.52 88.67 L585.62 89.05 L586.74 89.44 L587.86 89.83 L588.98 90.22 L590.12 90.62 L591.26 91.02 L592.41 91.42 L593.56 91.82 L594.72 92.23 L595.89 92.64 L597.07 93.06 L598.25 93.48 L599.44 93.90 L600.63 94.32 L601.83 94.75 L603.04 95.18 L604.26 95.62 L605.48 96.05 L606.71 96.50 L607.95 96.94 L609.20 97.39 L610.45 97.84 L611.71 98.29 L612.97 98.75 L614.25 99.21 L615.53 99.67 L616.81 100.13 L618.11 100.60 L619.41 101.08 L620.72 101.55 L622.04 102.03 L623.36 102.51 L624.69 102.99 L626.03 103.48 L627.38 103.97 L628.73 104.47 L630.09 104.96 L631.46 105.46 L632.83 105.96 L634.22 106.47 L635.61 106.98 L637.01 107.49 L638.41 108.01 L639.82 108.52 L641.24 109.05 L642.67 109.57 L644.11 110.10 L645.55 110.63 L647.00 111.16 L648.46 111.70 L649.93 112.24 L651.40 112.78 L652.88 113.32 L654.37 113.87 L655.87 114.42 L657.38 114.98 L658.89 115.54 L660.41 116.10 L661.94 116.66 L663.47 117.23 L665.02 117.80 L666.57 118.37 L668.13 118.95 L669.70 119.53 L671.27 120.11 L672.86 120.70 L674.45 121.28 L676.05 121.88 L678.60 121.88 L678.60 259.20 L462.73 259.20 Z" fill="#1e90ff" fill-opacity="0.3"/>
<line x1="509.47" y1="260.20" x2="689.89" y2="4.30" stroke="#808080" stroke-width="1.7"/>
<path d="M462.73 274.97 L462.80 273.83 L462.80 269.75 L462.81 265.82 L462.82 262.02 L462.83 258.35 L462.84 254.80 L462.85 251.35 L462.86 248.01 L462.87 244.77 L462.89 241.62 L462.90 238.56 L462.91 235.58 L462.93 232.68 L462.95 229.85 L462.96 227.09 L462.98 224.41 L463.00 221.78 L463.02 219.22 L463.04 216.72 L463.06 214.27 L463.08 211.88 L463.10 209.53 L463.13 207.24 L463.15 205.00 L463.18 202.80 L463.20 200.65 L463.23 198.53 L463.26 196.46 L463.29 194.43 L463.32 192.44 L463.35 190.48 L463.39 188.56 L463.42 186.68 L463.46 184.82 L463.49 183.00 L463.53 181.21 L463.57 179.46 L463.61 177.73 L463.65 176.03 L463.70 174.35 L463.74 172.71 L463.79 171.09 L463.83 169.50 L463.88 167.93 L463.93 166.38 L463.98 164.86 L464.04 163.36 L464.09 161.89 L464.15 160.44 L464.20 159.00 L464.26 157.59 L464.32 156.20 L464.39 154.83 L464.45 153.48 L464.51 152.15 L464.58 150.83 L464.65 149.54 L464.72 148.26 L464.79 147.00 L464.87 145.76 L464.94 144.53 L465.02 143.32 L465.10 142.13 L465.18 140.95 L465.26 139.79 L465.35 138.64 L465.43 137.51 L465.52 136.40 L465.61 135.29 L465.70 134.21 L465.80 133.13 L465.89 132.07 L465.99 131.02 L466.09 129.99 L466.19 128.97 L466.29 127.96 L466.40 126.97 L466.51 125.99 L466.62 125.02 L466.73 124.06 L466.84 123.11 L466.96 122.18 L467.08 121.26 L467.20 120.34 L467.32 119.44 L467.45 118.56 L467.58 117.68 L467.71 116.81 L467.84 115.96 L467.97 115.11 L468.11 114.28 L468.25 113.45 L468.39 112.64 L468.53 111.83 L468.68 111.04 L468.83 110.26 L468.98 109.48 L469.13 108.72 L469.29 107.96 L469.45 107.22 L469.61 106.48 L469.77 105.75 L469.94 105.04 L470.11 104.33 L470.28 103.63 L470.45 102.94 L470.63 102.26 L470.81 101.58 L470.99 100.92 L471.18 100.26 L471.37 99.62 L471.56 98.98 L471.75 98.35 L471.95 97.72 L472.14 97.11 L472.35 96.50 L472.55 95.91 L472.76 95.32 L472.97 94.74 L473.18 94.16 L473.40 93.60 L473.62 93.04 L473.84 92.49 L474.06 91.94 L474.29 91.41 L474.52 90.88 L474.76 90.36 L475.00 89.85 L475.24 89.34 L475.48 88.85 L475.73 88.36 L475.98 87.87 L476.23 87.40 L476.49 86.93 L476.74 86.47 L477.01 86.01 L477.27 85.56 L477.54 85.12 L477.82 84.69 L478.09 84.26 L478.37 83.84 L478.65 83.43 L478.94 83.03 L479.23 82.63 L479.52 82.23 L479.82 81.85 L480.12 81.47 L480.42 81.10 L480.73 80.73 L481.04 80.37 L481.35 80.02 L481.67 79.67 L481.99 79.33 L482.32 79.00 L482.64 78.67 L482.98 78.35 L483.31 78.04 L483.65 77.73 L483.99 77.43 L484.34 77.13 L484.69 76.84 L485.04 76.56 L485.40 76.28 L485.76 76.01 L486.13 75.75 L486.50 75.49 L486.87 75.24 L487.25 74.99 L487.63 74.75 L488.02 74.52 L488.41 74.29 L488.80 74.07 L489.20 73.85 L489.60 73.64 L490.00 73.43 L490.41 73.24 L490.82 73.04 L491.24 72.85 L491.66 72.67 L492.09 72.50 L492.95 72.16 L493.83 71.85 L494.73 71.56 L495.64 71.29 L496.57 71.05 L497.52 70.83 L498.49 70.62 L499.47 70.45 L500.47 70.29 L501.49 70.15 L502.53 70.03 L503.59 69.94 L504.66 69.87 L505.76 69.81 L506.87 69.78 L508.00 69.77 L509.15 69.77 L510.32 69.80 L510.92 69.82 L511.51 69.85 L512.12 69.88 L512.72 69.91 L513.34 69.96 L513.95 70.00 L514.58 70.05 L515.20 70.11 L515.83 70.17 L516.47 70.23 L517.11 70.30 L517.76 70.37 L518.41 70.45 L519.07 70.54 L519.73 70.62 L520.40 70.72 L521.08 70.81 L521.75 70.92 L522.44 71.02 L523.13 71.13 L523.82 71.25 L524.52 71.37 L525.23 71.49 L525.94 71.62 L526.65 71.76 L527.37 71.89 L528.10 72.04 L528.83 72.18 L529.57 72.33 L530.31 72.49 L531.06 72.65 L531.81 72.81 L532.57 72.98 L533.34 73.16 L534.11 73.33 L534.88 73.51 L535.66 73.70 L536.45 73.89 L537.24 74.08 L538.04 74.28 L538.85 74.48 L539.65 74.69 L540.47 74.90 L541.29 75.11 L542.12 75.33 L542.95 75.55 L543.79 75.78 L544.63 76.01 L545.48 76.24 L546.34 76.48 L547.20 76.72 L548.07 76.97 L548.94 77.22 L549.82 77.47 L550.71 77.73 L551.60 77.99 L552.50 78.26 L553.40 78.53 L554.31 78.80 L555.23 79.08 L556.15 79.36 L557.08 79.64 L558.01 79.93 L558.95 80.22 L559.90 80.52 L560.85 80.82 L561.81 81.12 L562.78 81.42 L563.75 81.73 L564.72 82.05 L565.71 82.37 L566.70 82.69 L567.69 83.01 L568.70 83.34 L569.71 83.67 L570.72 84.00 L571.74 84.34 L572.77 84.68 L573.81 85.03 L574.85 85.38 L575.90 85.73 L576.95 86.09 L578.01 86.45 L579.08 86.81 L580.15 87.17 L581.23 87.54 L582.32 87.92 L583.41 88.29 L584.52 88.67 L585.62 89.05 L586.74 89.44 L587.86 89.83 L588.98 90.22 L590.12 90.62 L591.26 91.02 L592.41 91.42 L593.56 91.82 L594.72 92.23 L595.89 92.64 L597.07 93.06 L598.25 93.48 L599.44 93.90 L600.63 94.32 L601.83 94.75 L603.04 95.18 L604.26 95.62 L605.48 96.05 L606.71 96.50 L607.95 96.94 L609.20 97.39 L610.45 97.84 L611.71 98.29 L612.97 98.75 L614.25 99.21 L615.53 99.67 L616.81 100.13 L618.11 100.60 L619.41 101.08 L620.72 101.55 L622.04 102.03 L623.36 102.51 L624.69 102.99 L626.03 103.48 L627.38 103.97 L628.73 104.47 L630.09 104.96 L631.46 105.46 L632.83 105.96 L634.22 106.47 L635.61 106.98 L637.01 107.49 L638.41 108.01 L639.82 108.52 L641.24 109.05 L642.67 109.57 L644.11 110.10 L645.55 110.63 L647.00 111.16 L648.46 111.70 L649.93 112.24 L651.40 112.78 L652.88 113.32 L654.37 113.87 L655.87 114.42 L657.38 114.98 L658.89 115.54 L660.41 116.10 L661.94 116.66 L663.47 117.23 L665.02 117.80 L666.57 118.37 L668.13 118.95 L669.70 119.53 L671.27 120.11 L672.86 120.70 L674.45 121.28 L676.05 121.88" fill="none" stroke="#1e90ff" stroke-width="2.00" stroke-linejoin="round"/>
<path d="M472.80 274.97 L472.87 269.86 L472.88 265.39 L472.88 261.08 L472.89 256.91 L472.90 252.87 L472.91 248.95 L472.92 245.16 L472.93 241.48 L472.95 237.90 L472.96 234.42 L472.97 231.04 L472.99 227.74 L473.00 224.53 L473.02 221.40 L473.03 218.35 L473.05 215.37 L473.07 212.46 L473.09 209.62 L473.11 206.84 L473.13 204.12 L473.15 201.46 L473.17 198.86 L473.20 196.32 L473.22 193.82 L473.25 191.38 L473.27 188.98 L473.30 186.63 L473.33 184.33 L473.36 182.07 L473.39 179.85 L473.42 177.67 L473.45 175.54 L473.49 173.44 L473.52 171.37 L473.56 169.35 L473.60 167.35 L473.64 165.40 L473.68 163.47 L473.72 161.58 L473.76 159.71 L473.80 157.88 L473.85 156.07 L473.89 154.30 L473.94 152.55 L473.99 150.83 L474.04 149.14 L474.09 147.47 L474.15 145.83 L474.20 144.21 L474.26 142.61 L474.32 141.04 L474.37 139.49 L474.44 137.97 L474.50 136.46 L474.56 134.98 L474.63 133.52 L474.69 132.08 L474.76 130.66 L474.83 129.25 L474.90 127.87 L474.98 126.51 L475.05 125.16 L475.13 123.84 L475.21 122.53 L475.29 121.24 L475.37 119.97 L475.46 118.71 L475.54 117.47 L475.63 116.25 L475.72 115.04 L475.81 113.85 L475.90 112.67 L476.00 111.51 L476.09 110.37 L476.19 109.24 L476.29 108.12 L476.40 107.02 L476.50 105.94 L476.61 104.87 L476.72 103.81 L476.83 102.76 L476.94 101.73 L477.06 100.71 L477.17 99.71 L477.29 98.72 L477.41 97.74 L477.54 96.77 L477.66 95.82 L477.79 94.88 L477.92 93.95 L478.05 93.03 L478.19 92.12 L478.33 91.23 L478.47 90.35 L478.61 89.48 L478.75 88.62 L478.90 87.77 L479.05 86.94 L479.20 86.11 L479.35 85.30 L479.51 84.49 L479.67 83.70 L479.83 82.92 L479.99 82.15 L480.16 81.38 L480.33 80.63 L480.50 79.89 L480.67 79.16 L480.85 78.44 L481.03 77.73 L481.21 77.03 L481.39 76.34 L481.58 75.66 L481.77 74.99 L481.96 74.32 L482.15 73.67 L482.35 73.03 L482.55 72.39 L482.76 71.77 L482.96 71.15 L483.17 70.55 L483.38 69.95 L483.60 69.36 L483.81 68.78 L484.03 68.21 L484.26 67.65 L484.48 67.09 L484.71 66.55 L484.94 66.01 L485.18 65.49 L485.42 64.97 L485.66 64.46 L485.90 63.95 L486.15 63.46 L486.40 62.97 L486.65 62.50 L486.91 62.03 L487.17 61.57 L487.43 61.11 L487.70 60.67 L487.97 60.23 L488.24 59.80 L488.52 59.38 L488.80 58.97 L489.08 58.56 L489.36 58.16 L489.65 57.77 L489.95 57.39 L490.24 57.01 L490.54 56.64 L490.84 56.28 L491.15 55.93 L491.46 55.59 L491.77 55.25 L492.09 54.92 L492.41 54.59 L492.73 54.28 L493.06 53.97 L493.39 53.67 L493.72 53.37 L494.06 53.08 L494.40 52.80 L494.74 52.53 L495.09 52.26 L495.44 52.00 L495.80 51.75 L496.16 51.51 L496.52 51.27 L497.26 50.81 L498.01 50.38 L498.78 49.97 L499.56 49.59 L500.36 49.24 L501.18 48.91 L502.01 48.61 L502.86 48.34 L503.72 48.08 L504.60 47.86 L505.49 47.65 L506.41 47.47 L507.33 47.32 L508.28 47.18 L509.24 47.07 L510.23 46.99 L511.22 46.92 L512.24 46.88 L513.27 46.86 L514.32 46.86 L515.39 46.88 L516.48 46.93 L517.59 46.99 L518.71 47.07 L519.28 47.12 L519.85 47.18 L520.43 47.24 L521.02 47.30 L521.60 47.37 L522.20 47.45 L522.79 47.53 L523.40 47.61 L524.00 47.70 L524.61 47.79 L525.23 47.89 L525.85 47.99 L526.48 48.10 L527.11 48.21 L527.75 48.33 L528.39 48.45 L529.04 48.57 L529.69 48.70 L530.34 48.84 L531.01 48.98 L531.67 49.12 L532.34 49.27 L533.02 49.42 L533.70 49.58 L534.39 49.74 L535.08 49.90 L535.78 50.07 L536.48 50.24 L537.19 50.42 L537.90 50.60 L538.62 50.78 L539.34 50.97 L540.07 51.16 L540.80 51.36 L541.54 51.56 L542.29 51.77 L543.04 51.97 L543.79 52.19 L544.55 52.40 L545.32 52.62 L546.09 52.84 L546.87 53.07 L547.65 53.30 L548.44 53.54 L549.23 53.77 L550.03 54.02 L550.84 54.26 L551.65 54.51 L552.46 54.76 L553.28 55.02 L554.11 55.28 L554.94 55.54 L555.78 55.80 L556.62 56.07 L557.47 56.35 L558.33 56.62 L559.19 56.90 L560.06 57.18 L560.93 57.47 L561.81 57.76 L562.69 58.05 L563.58 58.35 L564.48 58.65 L565.38 58.95 L566.29 59.25 L567.20 59.56 L568.12 59.87 L569.05 60.19 L569.98 60.50 L570.92 60.82 L571.86 61.15 L572.81 61.47 L573.76 61.80 L574.73 62.14 L575.69 62.47 L576.67 62.81 L577.65 63.15 L578.63 63.50 L579.62 63.84 L580.62 64.19 L581.63 64.55 L582.64 64.90 L583.66 65.26 L584.68 65.62 L585.71 65.99 L586.74 66.36 L587.79 66.73 L588.84 67.10 L589.89 67.47 L590.95 67.85 L592.02 68.23 L593.09 68.62 L594.17 69.01 L595.26 69.40 L596.35 69.79 L597.45 70.18 L598.56 70.58 L599.67 70.98 L600.79 71.39 L601.92 71.79 L603.05 72.20 L604.19 72.61 L605.34 73.03 L606.49 73.44 L607.65 73.86 L608.81 74.29 L609.99 74.71 L611.17 75.14 L612.35 75.57 L613.54 76.00 L614.74 76.44 L615.95 76.88 L617.16 77.32 L618.38 77.77 L619.61 78.21 L620.84 78.66 L622.08 79.11 L623.33 79.57 L624.59 80.03 L625.85 80.49 L627.12 80.95 L628.39 81.42 L629.67 81.88 L630.96 82.36 L632.26 82.83 L633.56 83.31 L634.87 83.79 L636.19 84.27 L637.52 84.75 L638.85 85.24 L640.19 85.73 L641.53 86.22 L642.89 86.72 L644.25 87.22 L645.62 87.72 L646.99 88.22 L648.37 88.73 L649.76 89.24 L651.16 89.75 L652.57 90.26 L653.98 90.78 L655.40 91.30 L656.82 91.82 L658.26 92.35 L659.70 92.88 L661.15 93.41 L662.60 93.94 L664.07 94.48 L665.54 95.02 L667.02 95.56 L668.50 96.11 L670.00 96.66 L671.50 97.21 L673.01 97.76 L674.52 98.32 L676.05 98.88" fill="none" stroke="#1e90ff" stroke-width="2.00" stroke-dasharray="6.22 2.69"/>
<path d="M428.70 149.41 L429.19 148.37 L429.68 147.39 L430.18 146.45 L430.67 145.57 L431.16 144.73 L431.65 143.93 L432.15 143.17 L432.64 142.45 L433.13 141.77 L433.62 141.13 L434.11 140.52 L434.61 139.94 L435.10 139.40 L435.59 138.88 L436.08 138.39 L436.58 137.93 L437.07 137.50 L437.56 137.09 L438.05 136.71 L438.55 136.35 L439.04 136.01 L439.53 135.69 L440.02 135.39 L440.51 135.12 L441.01 134.86 L441.50 134.61 L441.99 134.39 L442.48 134.18 L442.98 133.98 L443.47 133.81 L443.96 133.64 L444.45 133.49 L444.94 133.35 L445.44 133.23 L445.93 133.11 L446.91 132.92 L447.90 132.77 L448.88 132.66 L449.87 132.59 L450.85 132.54 L451.84 132.53 L452.82 132.55 L453.81 132.59 L454.79 132.66 L455.77 132.74 L456.76 132.85 L457.74 132.98 L458.73 133.12 L459.71 133.28 L460.70 133.45 L461.68 133.64 L462.67 133.84 L463.65 134.05 L464.14 134.15 L464.64 134.27 L465.13 134.38 L465.62 134.50 L466.11 134.61 L466.60 134.73 L467.10 134.86 L467.59 134.98 L468.08 135.11 L468.57 135.24 L469.07 135.37 L469.56 135.50 L470.05 135.63 L470.54 135.77 L471.03 135.90 L471.53 136.04 L472.02 136.18 L472.51 136.32 L473.00 136.46 L473.50 136.60 L473.99 136.75 L474.48 136.89 L474.97 137.04 L475.46 137.18 L475.96 137.33 L476.45 137.48 L476.94 137.63 L477.43 137.78 L477.93 137.93 L478.42 138.08 L478.91 138.24 L479.40 138.39 L479.90 138.55 L480.39 138.70 L480.88 138.86 L481.37 139.01 L481.86 139.17 L482.36 139.33 L482.85 139.49 L483.34 139.65 L483.83 139.80 L484.33 139.96 L484.82 140.12 L485.31 140.29 L485.80 140.45 L486.29 140.61 L486.79 140.77 L487.28 140.93 L487.77 141.09 L488.26 141.26 L488.76 141.42 L489.25 141.59 L489.74 141.75 L490.23 141.91 L490.72 142.08 L491.22 142.24 L491.71 142.41 L492.20 142.57 L492.69 142.74 L493.19 142.91 L493.68 143.07 L494.17 143.24 L494.66 143.40 L495.16 143.57 L495.65 143.74 L496.14 143.91 L496.63 144.07 L497.12 144.24 L497.62 144.41 L498.11 144.58 L498.60 144.74 L499.09 144.91 L499.59 145.08 L500.08 145.25 L500.57 145.42 L501.06 145.59 L501.55 145.75 L502.05 145.92 L502.54 146.09 L503.03 146.26 L503.52 146.43 L504.02 146.60 L504.51 146.77 L505.00 146.94 L505.49 147.11 L505.99 147.28 L506.48 147.45 L506.97 147.62 L507.46 147.79 L507.95 147.96 L508.45 148.13 L508.94 148.30 L509.43 148.47 L509.92 148.64 L510.42 148.81 L510.91 148.98 L511.40 149.15 L511.89 149.32 L512.38 149.49 L512.88 149.66 L513.37 149.83 L513.86 150.00 L514.35 150.17 L514.85 150.34 L515.34 150.51 L515.83 150.68 L516.32 150.86 L516.81 151.03 L517.31 151.20 L517.80 151.37 L518.29 151.54 L518.78 151.71 L519.28 151.88 L519.77 152.05 L520.26 152.22 L520.75 152.39 L521.25 152.57 L521.74 152.74 L522.23 152.91 L522.72 153.08 L523.21 153.25 L523.71 153.42 L524.20 153.59 L524.69 153.76 L525.18 153.94 L525.68 154.11 L526.17 154.28 L526.66 154.45" fill="none" stroke="#ff0000" stroke-width="2.00" stroke-dasharray="6.22 2.69"/>
<path d="M428.70 224.30 L429.43 223.60 L430.15 222.89 L430.87 222.19 L431.58 221.48 L432.30 220.77 L433.02 220.07 L433.75 219.37 L434.49 218.67 L435.24 217.98 L436.00 217.30 L436.78 216.62 L437.55 215.96 L438.32 215.32 L439.10 214.69 L439.88 214.06 L440.69 213.41 L441.53 212.76 L442.41 212.07 L443.33 211.36 L444.30 210.60 L445.85 209.41 L447.52 208.13 L449.31 206.78 L451.18 205.38 L453.11 203.94 L455.07 202.48 L457.03 201.03 L458.97 199.58 L460.87 198.17 L462.70 196.80 L464.39 195.54 L466.09 194.26 L467.79 192.99 L469.49 191.72 L471.17 190.46 L472.82 189.22 L474.44 188.01 L476.02 186.83 L477.54 185.69 L479.00 184.60 L480.08 183.79 L481.13 183.01 L482.14 182.26 L483.13 181.53 L484.10 180.81 L485.05 180.10 L485.99 179.40 L486.92 178.70 L487.86 178.01 L488.80 177.30 L489.69 176.65 L490.60 176.02 L491.50 175.40 L492.40 174.79 L493.29 174.18 L494.16 173.56 L495.02 172.92 L495.85 172.25 L496.64 171.55 L497.40 170.80 L498.12 170.00 L498.80 169.16 L499.44 168.28 L500.06 167.38 L500.65 166.45 L501.24 165.52 L501.82 164.58 L502.40 163.64 L502.99 162.71 L503.60 161.80 L505.80 147.50 L508.60 131.00 L511.30 142.00 L513.50 150.20 L513.89 150.43 L514.26 150.66 L514.64 150.90 L515.01 151.14 L515.39 151.38 L515.77 151.61 L516.16 151.84 L516.56 152.04 L516.97 152.23 L517.40 152.40 L517.91 152.57 L518.45 152.75 L519.02 152.92 L519.60 153.07 L520.19 153.21 L520.77 153.31 L521.34 153.38 L521.90 153.41 L522.42 153.38 L522.90 153.30 L523.27 153.18 L523.61 153.02 L523.92 152.83 L524.21 152.60 L524.49 152.35 L524.78 152.07 L525.09 151.77 L525.42 151.46 L525.78 151.13 L526.20 150.80 L527.13 150.09 L528.12 149.32 L529.18 148.50 L530.34 147.60 L531.60 146.62 L532.98 145.56 L534.49 144.41 L536.16 143.15 L537.99 141.79 L540.00 140.30 L548.70 134.00 L561.18 125.10 L576.39 114.31 L593.33 102.34 L610.95 89.90 L628.25 77.72 L644.18 66.50 L657.74 56.97 L667.88 49.83 L673.60 45.80 L673.99 45.52 L674.31 45.29 L674.59 45.10 L674.82 44.93 L675.03 44.79 L675.22 44.66 L675.40 44.53 L675.58 44.40 L675.78 44.26 L676.00 44.10" fill="none" stroke="#000" stroke-width="2.00" stroke-linejoin="round"/>
<path d="M462.70 196.80 L464.35 195.57 L466.03 194.31 L467.72 193.04 L469.42 191.77 L471.11 190.50 L472.78 189.25 L474.41 188.03 L476.00 186.84 L477.54 185.69 L479.00 184.60 L480.08 183.79 L481.13 183.01 L482.14 182.26 L483.13 181.53 L484.10 180.81 L485.05 180.10 L485.99 179.40 L486.92 178.70 L487.86 178.01 L488.80 177.30 L489.68 176.63 L490.54 175.97 L491.39 175.31 L492.23 174.65 L493.07 173.99 L493.92 173.34 L494.76 172.70 L495.62 172.06 L496.50 171.43 L497.40 170.80 L498.36 170.16 L499.34 169.53 L500.34 168.91 L501.34 168.30 L502.36 167.70 L503.38 167.09 L504.41 166.49 L505.44 165.87 L506.47 165.24 L507.50 164.60 L508.61 163.90 L509.75 163.17 L510.92 162.43 L512.09 161.68 L513.27 160.93 L514.41 160.18 L515.53 159.45 L516.59 158.73 L517.59 158.05 L518.50 157.40 L519.08 156.97 L519.62 156.56 L520.13 156.17 L520.62 155.78 L521.09 155.40 L521.55 155.02 L522.00 154.64 L522.46 154.27 L522.92 153.89 L523.40 153.50 L524.00 152.52 L524.60 151.54 L525.19 150.58 L525.78 149.61 L526.38 148.64 L526.98 147.67 L527.58 146.68 L528.20 145.68 L528.84 144.65 L529.50 143.60 L530.30 142.34 L531.13 141.08 L531.97 139.80 L532.84 138.50 L533.71 137.18 L534.60 135.83 L535.50 134.44 L536.40 133.01 L537.30 131.53 L538.20 130.00 L539.31 128.03 L540.39 126.07 L541.46 124.08 L542.52 122.03 L543.61 119.90 L544.74 117.66 L545.92 115.28 L547.18 112.73 L548.53 109.98 L550.00 107.00 L553.61 99.59 L558.10 90.23 L563.22 79.48 L568.71 67.89 L574.31 56.03 L579.76 44.44 L584.80 33.70 L589.18 24.36 L592.63 16.97 L594.90 12.10 L595.22 11.40 L595.50 10.81 L595.74 10.29 L595.94 9.84 L596.12 9.43 L596.29 9.06 L596.46 8.70 L596.62 8.33 L596.80 7.93 L597.00 7.50" fill="none" stroke="#000" stroke-width="2.00" stroke-dasharray="10.75 2.69 1.68 2.69"/>
</g>
<rect x="428.70" y="10.30" width="244.90" height="243.90" fill="none" stroke="#000" stroke-width="0.9"/>
<path d="M428.70 254.20V258.20M477.68 254.20V258.20M526.66 254.20V258.20M575.64 254.20V258.20M624.62 254.20V258.20M673.60 254.20V258.20M428.70 218.00H424.70M428.70 148.77H424.70M428.70 79.53H424.70M428.70 10.30H424.70" stroke="#000" stroke-width="0.9" fill="none"/>
<path d="M443.44 254.20V256.50M452.07 254.20V256.50M458.19 254.20V256.50M462.94 254.20V256.50M466.81 254.20V256.50M470.09 254.20V256.50M472.93 254.20V256.50M475.44 254.20V256.50M492.42 254.20V256.50M501.05 254.20V256.50M507.17 254.20V256.50M511.92 254.20V256.50M515.79 254.20V256.50M519.07 254.20V256.50M521.91 254.20V256.50M524.42 254.20V256.50M541.40 254.20V256.50M550.03 254.20V256.50M556.15 254.20V256.50M560.90 254.20V256.50M564.77 254.20V256.50M568.05 254.20V256.50M570.89 254.20V256.50M573.40 254.20V256.50M590.38 254.20V256.50M599.01 254.20V256.50M605.13 254.20V256.50M609.88 254.20V256.50M613.75 254.20V256.50M617.03 254.20V256.50M619.87 254.20V256.50M622.38 254.20V256.50M639.36 254.20V256.50M647.99 254.20V256.50M654.11 254.20V256.50M658.86 254.20V256.50M662.73 254.20V256.50M666.01 254.20V256.50M668.85 254.20V256.50M671.36 254.20V256.50M428.70 254.20H426.40M428.70 245.55H426.40M428.70 238.84H426.40M428.70 233.36H426.40M428.70 228.72H426.40M428.70 224.71H426.40M428.70 221.17H426.40M428.70 197.16H426.40M428.70 184.97H426.40M428.70 176.32H426.40M428.70 169.61H426.40M428.70 164.13H426.40M428.70 159.49H426.40M428.70 155.48H426.40M428.70 151.93H426.40M428.70 127.93H426.40M428.70 115.73H426.40M428.70 107.08H426.40M428.70 100.37H426.40M428.70 94.89H426.40M428.70 90.26H426.40M428.70 86.24H426.40M428.70 82.70H426.40M428.70 58.69H426.40M428.70 46.50H426.40M428.70 37.85H426.40M428.70 31.14H426.40M428.70 25.66H426.40M428.70 21.02H426.40M428.70 17.01H426.40M428.70 13.47H426.40" stroke="#000" stroke-width="0.7" fill="none"/>
<g clip-path="url(#c2)">
<polygon points="230.30,585.20 489.90,325.60 723.50,325.60 723.50,585.20" fill="#808080" fill-opacity="0.3"/>
<path d="M110.09 594.06 L110.44 592.68 L110.46 589.28 L110.49 585.96 L110.51 582.71 L110.54 579.52 L110.56 576.40 L110.59 573.34 L110.62 570.34 L110.65 567.40 L110.68 564.51 L110.72 561.68 L110.75 558.90 L110.78 556.17 L110.82 553.49 L110.86 550.86 L110.90 548.27 L110.94 545.73 L110.98 543.23 L111.02 540.77 L111.06 538.36 L111.11 535.98 L111.15 533.64 L111.20 531.34 L111.25 529.08 L111.30 526.85 L111.35 524.66 L111.41 522.50 L111.46 520.37 L111.52 518.28 L111.58 516.22 L111.64 514.18 L111.70 512.18 L111.76 510.21 L111.83 508.27 L111.89 506.35 L111.96 504.47 L112.03 502.61 L112.10 500.77 L112.17 498.97 L112.25 497.18 L112.32 495.43 L112.40 493.69 L112.48 491.99 L112.56 490.30 L112.65 488.64 L112.73 487.00 L112.82 485.38 L112.91 483.79 L113.00 482.21 L113.09 480.66 L113.19 479.13 L113.28 477.62 L113.38 476.13 L113.48 474.66 L113.59 473.21 L113.69 471.78 L113.80 470.37 L113.91 468.97 L114.02 467.60 L114.13 466.24 L114.25 464.90 L114.37 463.58 L114.49 462.28 L114.61 460.99 L114.73 459.73 L114.86 458.47 L114.99 457.24 L115.12 456.02 L115.26 454.82 L115.39 453.63 L115.53 452.46 L115.67 451.31 L115.81 450.17 L115.96 449.04 L116.11 447.93 L116.26 446.84 L116.41 445.76 L116.57 444.70 L116.72 443.65 L116.88 442.61 L117.05 441.59 L117.21 440.58 L117.38 439.59 L117.55 438.61 L117.73 437.65 L117.90 436.70 L118.08 435.76 L118.26 434.83 L118.45 433.92 L118.64 433.02 L118.83 432.14 L119.02 431.27 L119.21 430.41 L119.41 429.56 L119.61 428.73 L119.82 427.90 L120.02 427.10 L120.23 426.30 L120.45 425.51 L120.66 424.74 L120.88 423.98 L121.10 423.23 L121.33 422.50 L121.56 421.77 L121.79 421.06 L122.02 420.36 L122.26 419.67 L122.50 418.99 L122.74 418.32 L122.99 417.67 L123.24 417.02 L123.49 416.39 L123.75 415.77 L124.01 415.15 L124.27 414.55 L124.54 413.96 L124.81 413.39 L125.08 412.82 L125.35 412.26 L125.63 411.72 L125.92 411.18 L126.20 410.65 L126.49 410.14 L126.78 409.63 L127.08 409.14 L127.38 408.66 L127.68 408.18 L127.99 407.72 L128.30 407.27 L128.62 406.82 L128.93 406.39 L129.25 405.96 L129.58 405.55 L129.91 405.15 L130.24 404.75 L130.58 404.37 L130.92 403.99 L131.26 403.63 L131.61 403.27 L131.96 402.93 L132.31 402.59 L132.67 402.26 L133.03 401.94 L133.40 401.64 L133.77 401.34 L134.14 401.05 L134.52 400.76 L134.90 400.49 L135.29 400.23 L135.68 399.97 L136.07 399.73 L136.47 399.49 L136.87 399.26 L137.28 399.05 L137.69 398.84 L138.10 398.63 L138.52 398.44 L138.94 398.26 L139.37 398.08 L140.23 397.76 L141.11 397.46 L142.01 397.21 L142.93 396.98 L143.86 396.78 L144.82 396.62 L145.79 396.49 L146.77 396.39 L147.78 396.33 L148.80 396.29 L149.84 396.28 L150.90 396.30 L151.98 396.36 L153.08 396.44 L153.63 396.49 L154.20 396.55 L154.76 396.61 L155.33 396.68 L155.91 396.76 L156.49 396.85 L157.07 396.94 L157.66 397.04 L158.26 397.15 L158.86 397.26 L159.46 397.38 L160.07 397.51 L160.68 397.64 L161.30 397.78 L161.93 397.93 L162.56 398.08 L163.19 398.24 L163.83 398.41 L164.48 398.58 L165.13 398.76 L165.78 398.94 L166.44 399.14 L167.11 399.33 L167.78 399.54 L168.46 399.74 L169.14 399.96 L169.82 400.18 L170.52 400.41 L171.21 400.64 L171.92 400.88 L172.62 401.12 L173.34 401.37 L174.06 401.63 L174.78 401.89 L175.51 402.16 L176.24 402.43 L176.98 402.71 L177.73 402.99 L178.48 403.28 L179.24 403.58 L180.00 403.88 L180.77 404.18 L181.54 404.49 L182.32 404.81 L183.11 405.13 L183.90 405.46 L184.70 405.79 L185.50 406.13 L186.31 406.47 L187.12 406.81 L187.94 407.17 L188.77 407.52 L189.60 407.88 L190.43 408.25 L191.28 408.62 L192.12 409.00 L192.98 409.38 L193.84 409.77 L194.71 410.16 L195.58 410.55 L196.46 410.95 L197.34 411.36 L198.23 411.77 L199.13 412.18 L200.03 412.60 L200.94 413.02 L201.85 413.45 L202.77 413.88 L203.70 414.32 L204.63 414.76 L205.57 415.20 L206.52 415.65 L207.47 416.11 L208.43 416.57 L209.39 417.03 L210.36 417.50 L211.34 417.97 L212.32 418.44 L213.31 418.92 L214.31 419.41 L215.31 419.90 L216.32 420.39 L217.33 420.89 L218.35 421.39 L219.38 421.89 L220.42 422.40 L221.46 422.91 L222.51 423.43 L223.56 423.95 L224.62 424.48 L225.69 425.01 L226.76 425.54 L227.84 426.08 L228.93 426.62 L230.02 427.16 L231.12 427.71 L232.23 428.27 L233.34 428.83 L234.46 429.39 L235.59 429.95 L236.72 430.52 L237.87 431.09 L239.01 431.67 L240.17 432.25 L241.33 432.84 L242.50 433.43 L243.67 434.02 L244.85 434.62 L246.04 435.22 L247.24 435.82 L248.44 436.43 L249.65 437.04 L250.87 437.66 L252.09 438.28 L253.33 438.90 L254.56 439.53 L255.81 440.16 L257.06 440.80 L258.32 441.44 L259.59 442.08 L260.86 442.73 L262.14 443.38 L263.43 444.04 L264.73 444.70 L266.03 445.36 L267.34 446.03 L268.66 446.70 L269.99 447.37 L271.32 448.05 L272.66 448.73 L274.01 449.42 L275.36 450.11 L276.72 450.81 L278.09 451.50 L279.47 452.21 L280.85 452.91 L282.25 453.62 L283.65 454.34 L285.05 455.06 L286.47 455.78 L287.89 456.50 L289.32 457.23 L290.76 457.97 L292.20 458.71 L293.66 459.45 L295.12 460.19 L296.59 460.94 L298.06 461.70 L299.55 462.46 L301.04 463.22 L302.54 463.98 L304.04 464.75 L305.56 465.53 L307.08 466.31 L308.61 467.09 L310.15 467.88 L311.70 468.67 L313.25 469.46 L314.82 470.26 L316.39 471.06 L317.97 471.87 L319.55 472.68 L321.15 473.50 L322.75 474.32 L324.36 475.14 L325.98 475.97 L328.50 475.97 L328.50 584.20 L110.09 584.20 Z" fill="#1e90ff" fill-opacity="0.3"/>
<line x1="230.30" y1="585.20" x2="489.90" y2="325.60" stroke="#808080" stroke-width="1.7"/>
<path d="M110.09 594.06 L110.44 592.68 L110.46 589.28 L110.49 585.96 L110.51 582.71 L110.54 579.52 L110.56 576.40 L110.59 573.34 L110.62 570.34 L110.65 567.40 L110.68 564.51 L110.72 561.68 L110.75 558.90 L110.78 556.17 L110.82 553.49 L110.86 550.86 L110.90 548.27 L110.94 545.73 L110.98 543.23 L111.02 540.77 L111.06 538.36 L111.11 535.98 L111.15 533.64 L111.20 531.34 L111.25 529.08 L111.30 526.85 L111.35 524.66 L111.41 522.50 L111.46 520.37 L111.52 518.28 L111.58 516.22 L111.64 514.18 L111.70 512.18 L111.76 510.21 L111.83 508.27 L111.89 506.35 L111.96 504.47 L112.03 502.61 L112.10 500.77 L112.17 498.97 L112.25 497.18 L112.32 495.43 L112.40 493.69 L112.48 491.99 L112.56 490.30 L112.65 488.64 L112.73 487.00 L112.82 485.38 L112.91 483.79 L113.00 482.21 L113.09 480.66 L113.19 479.13 L113.28 477.62 L113.38 476.13 L113.48 474.66 L113.59 473.21 L113.69 471.78 L113.80 470.37 L113.91 468.97 L114.02 467.60 L114.13 466.24 L114.25 464.90 L114.37 463.58 L114.49 462.28 L114.61 460.99 L114.73 459.73 L114.86 458.47 L114.99 457.24 L115.12 456.02 L115.26 454.82 L115.39 453.63 L115.53 452.46 L115.67 451.31 L115.81 450.17 L115.96 449.04 L116.11 447.93 L116.26 446.84 L116.41 445.76 L116.57 444.70 L116.72 443.65 L116.88 442.61 L117.05 441.59 L117.21 440.58 L117.38 439.59 L117.55 438.61 L117.73 437.65 L117.90 436.70 L118.08 435.76 L118.26 434.83 L118.45 433.92 L118.64 433.02 L118.83 432.14 L119.02 431.27 L119.21 430.41 L119.41 429.56 L119.61 428.73 L119.82 427.90 L120.02 427.10 L120.23 426.30 L120.45 425.51 L120.66 424.74 L120.88 423.98 L121.10 423.23 L121.33 422.50 L121.56 421.77 L121.79 421.06 L122.02 420.36 L122.26 419.67 L122.50 418.99 L122.74 418.32 L122.99 417.67 L123.24 417.02 L123.49 416.39 L123.75 415.77 L124.01 415.15 L124.27 414.55 L124.54 413.96 L124.81 413.39 L125.08 412.82 L125.35 412.26 L125.63 411.72 L125.92 411.18 L126.20 410.65 L126.49 410.14 L126.78 409.63 L127.08 409.14 L127.38 408.66 L127.68 408.18 L127.99 407.72 L128.30 407.27 L128.62 406.82 L128.93 406.39 L129.25 405.96 L129.58 405.55 L129.91 405.15 L130.24 404.75 L130.58 404.37 L130.92 403.99 L131.26 403.63 L131.61 403.27 L131.96 402.93 L132.31 402.59 L132.67 402.26 L133.03 401.94 L133.40 401.64 L133.77 401.34 L134.14 401.05 L134.52 400.76 L134.90 400.49 L135.29 400.23 L135.68 399.97 L136.07 399.73 L136.47 399.49 L136.87 399.26 L137.28 399.05 L137.69 398.84 L138.10 398.63 L138.52 398.44 L138.94 398.26 L139.37 398.08 L140.23 397.76 L141.11 397.46 L142.01 397.21 L142.93 396.98 L143.86 396.78 L144.82 396.62 L145.79 396.49 L146.77 396.39 L147.78 396.33 L148.80 396.29 L149.84 396.28 L150.90 396.30 L151.98 396.36 L153.08 396.44 L153.63 396.49 L154.20 396.55 L154.76 396.61 L155.33 396.68 L155.91 396.76 L156.49 396.85 L157.07 396.94 L157.66 397.04 L158.26 397.15 L158.86 397.26 L159.46 397.38 L160.07 397.51 L160.68 397.64 L161.30 397.78 L161.93 397.93 L162.56 398.08 L163.19 398.24 L163.83 398.41 L164.48 398.58 L165.13 398.76 L165.78 398.94 L166.44 399.14 L167.11 399.33 L167.78 399.54 L168.46 399.74 L169.14 399.96 L169.82 400.18 L170.52 400.41 L171.21 400.64 L171.92 400.88 L172.62 401.12 L173.34 401.37 L174.06 401.63 L174.78 401.89 L175.51 402.16 L176.24 402.43 L176.98 402.71 L177.73 402.99 L178.48 403.28 L179.24 403.58 L180.00 403.88 L180.77 404.18 L181.54 404.49 L182.32 404.81 L183.11 405.13 L183.90 405.46 L184.70 405.79 L185.50 406.13 L186.31 406.47 L187.12 406.81 L187.94 407.17 L188.77 407.52 L189.60 407.88 L190.43 408.25 L191.28 408.62 L192.12 409.00 L192.98 409.38 L193.84 409.77 L194.71 410.16 L195.58 410.55 L196.46 410.95 L197.34 411.36 L198.23 411.77 L199.13 412.18 L200.03 412.60 L200.94 413.02 L201.85 413.45 L202.77 413.88 L203.70 414.32 L204.63 414.76 L205.57 415.20 L206.52 415.65 L207.47 416.11 L208.43 416.57 L209.39 417.03 L210.36 417.50 L211.34 417.97 L212.32 418.44 L213.31 418.92 L214.31 419.41 L215.31 419.90 L216.32 420.39 L217.33 420.89 L218.35 421.39 L219.38 421.89 L220.42 422.40 L221.46 422.91 L222.51 423.43 L223.56 423.95 L224.62 424.48 L225.69 425.01 L226.76 425.54 L227.84 426.08 L228.93 426.62 L230.02 427.16 L231.12 427.71 L232.23 428.27 L233.34 428.83 L234.46 429.39 L235.59 429.95 L236.72 430.52 L237.87 431.09 L239.01 431.67 L240.17 432.25 L241.33 432.84 L242.50 433.43 L243.67 434.02 L244.85 434.62 L246.04 435.22 L247.24 435.82 L248.44 436.43 L249.65 437.04 L250.87 437.66 L252.09 438.28 L253.33 438.90 L254.56 439.53 L255.81 440.16 L257.06 440.80 L258.32 441.44 L259.59 442.08 L260.86 442.73 L262.14 443.38 L263.43 444.04 L264.73 444.70 L266.03 445.36 L267.34 446.03 L268.66 446.70 L269.99 447.37 L271.32 448.05 L272.66 448.73 L274.01 449.42 L275.36 450.11 L276.72 450.81 L278.09 451.50 L279.47 452.21 L280.85 452.91 L282.25 453.62 L283.65 454.34 L285.05 455.06 L286.47 455.78 L287.89 456.50 L289.32 457.23 L290.76 457.97 L292.20 458.71 L293.66 459.45 L295.12 460.19 L296.59 460.94 L298.06 461.70 L299.55 462.46 L301.04 463.22 L302.54 463.98 L304.04 464.75 L305.56 465.53 L307.08 466.31 L308.61 467.09 L310.15 467.88 L311.70 468.67 L313.25 469.46 L314.82 470.26 L316.39 471.06 L317.97 471.87 L319.55 472.68 L321.15 473.50 L322.75 474.32 L324.36 475.14 L325.98 475.97" fill="none" stroke="#1e90ff" stroke-width="2.00" stroke-linejoin="round"/>
<path d="M119.71 594.06 L120.00 591.18 L120.02 587.25 L120.05 583.41 L120.07 579.66 L120.09 575.98 L120.11 572.39 L120.14 568.86 L120.17 565.41 L120.19 562.03 L120.22 558.71 L120.25 555.46 L120.28 552.27 L120.31 549.14 L120.34 546.07 L120.38 543.06 L120.41 540.09 L120.45 537.19 L120.48 534.33 L120.52 531.52 L120.56 528.76 L120.60 526.05 L120.64 523.38 L120.69 520.76 L120.73 518.17 L120.78 515.64 L120.82 513.14 L120.87 510.68 L120.92 508.26 L120.97 505.88 L121.02 503.53 L121.08 501.23 L121.13 498.95 L121.19 496.71 L121.25 494.51 L121.31 492.33 L121.37 490.19 L121.43 488.09 L121.50 486.01 L121.57 483.96 L121.63 481.94 L121.70 479.95 L121.77 477.99 L121.85 476.06 L121.92 474.15 L122.00 472.27 L122.08 470.42 L122.16 468.59 L122.24 466.79 L122.32 465.02 L122.41 463.27 L122.49 461.54 L122.58 459.83 L122.67 458.15 L122.76 456.50 L122.86 454.86 L122.96 453.25 L123.05 451.66 L123.15 450.09 L123.26 448.55 L123.36 447.02 L123.47 445.52 L123.58 444.03 L123.69 442.57 L123.80 441.12 L123.91 439.70 L124.03 438.29 L124.15 436.91 L124.27 435.54 L124.39 434.19 L124.52 432.86 L124.65 431.55 L124.78 430.26 L124.91 428.98 L125.04 427.72 L125.18 426.48 L125.32 425.26 L125.46 424.05 L125.61 422.87 L125.75 421.69 L125.90 420.54 L126.05 419.40 L126.20 418.27 L126.36 417.17 L126.52 416.08 L126.68 415.00 L126.84 413.94 L127.01 412.90 L127.18 411.87 L127.35 410.85 L127.52 409.85 L127.70 408.87 L127.88 407.90 L128.06 406.95 L128.24 406.01 L128.43 405.08 L128.62 404.17 L128.81 403.27 L129.01 402.39 L129.20 401.52 L129.40 400.66 L129.61 399.82 L129.81 399.00 L130.02 398.18 L130.24 397.38 L130.45 396.59 L130.67 395.82 L130.89 395.06 L131.11 394.31 L131.34 393.57 L131.57 392.85 L131.80 392.14 L132.04 391.44 L132.28 390.76 L132.52 390.09 L132.76 389.43 L133.01 388.78 L133.26 388.15 L133.51 387.52 L133.77 386.91 L134.03 386.31 L134.30 385.73 L134.56 385.15 L134.83 384.59 L135.11 384.04 L135.38 383.50 L135.66 382.97 L135.95 382.45 L136.23 381.94 L136.52 381.45 L136.82 380.97 L137.11 380.49 L137.41 380.03 L137.72 379.58 L138.02 379.14 L138.33 378.72 L138.65 378.30 L138.96 377.89 L139.29 377.50 L139.61 377.11 L139.94 376.74 L140.27 376.37 L140.60 376.02 L140.94 375.67 L141.29 375.34 L141.63 375.02 L141.98 374.70 L142.34 374.40 L142.69 374.11 L143.05 373.82 L143.42 373.55 L143.79 373.28 L144.16 373.03 L144.54 372.78 L144.92 372.55 L145.30 372.32 L145.69 372.11 L146.47 371.70 L147.28 371.34 L148.10 371.00 L148.93 370.71 L149.78 370.45 L150.65 370.22 L151.53 370.03 L152.43 369.87 L153.35 369.75 L154.29 369.66 L155.24 369.60 L156.21 369.57 L157.19 369.57 L158.20 369.60 L159.22 369.67 L160.26 369.76 L161.32 369.88 L161.85 369.95 L162.39 370.03 L162.94 370.11 L163.49 370.21 L164.04 370.30 L164.60 370.41 L165.16 370.52 L165.73 370.64 L166.30 370.77 L166.88 370.90 L167.46 371.04 L168.05 371.18 L168.64 371.34 L169.24 371.49 L169.84 371.66 L170.45 371.83 L171.06 372.00 L171.68 372.19 L172.30 372.37 L172.92 372.57 L173.55 372.77 L174.19 372.97 L174.83 373.19 L175.48 373.40 L176.13 373.63 L176.78 373.85 L177.44 374.09 L178.11 374.33 L178.78 374.57 L179.46 374.82 L180.14 375.08 L180.83 375.34 L181.52 375.60 L182.22 375.88 L182.92 376.15 L183.63 376.43 L184.34 376.72 L185.06 377.01 L185.78 377.31 L186.51 377.61 L187.24 377.91 L187.98 378.22 L188.73 378.54 L189.48 378.86 L190.23 379.19 L190.99 379.51 L191.76 379.85 L192.53 380.19 L193.31 380.53 L194.09 380.88 L194.88 381.23 L195.68 381.59 L196.47 381.95 L197.28 382.31 L198.09 382.68 L198.91 383.05 L199.73 383.43 L200.56 383.81 L201.39 384.20 L202.23 384.59 L203.07 384.98 L203.93 385.38 L204.78 385.78 L205.64 386.19 L206.51 386.60 L207.39 387.01 L208.27 387.43 L209.15 387.85 L210.04 388.28 L210.94 388.71 L211.84 389.14 L212.75 389.58 L213.67 390.02 L214.59 390.46 L215.52 390.91 L216.45 391.37 L217.39 391.82 L218.33 392.28 L219.29 392.74 L220.24 393.21 L221.21 393.68 L222.18 394.16 L223.15 394.64 L224.13 395.12 L225.12 395.60 L226.12 396.09 L227.12 396.58 L228.12 397.08 L229.14 397.58 L230.16 398.08 L231.18 398.59 L232.21 399.10 L233.25 399.61 L234.30 400.13 L235.35 400.65 L236.41 401.18 L237.47 401.70 L238.54 402.24 L239.62 402.77 L240.70 403.31 L241.79 403.85 L242.89 404.40 L243.99 404.95 L245.10 405.50 L246.22 406.06 L247.34 406.62 L248.47 407.18 L249.61 407.74 L250.75 408.32 L251.90 408.89 L253.06 409.47 L254.22 410.05 L255.39 410.63 L256.56 411.22 L257.75 411.81 L258.94 412.41 L260.13 413.00 L261.34 413.61 L262.55 414.21 L263.77 414.82 L264.99 415.43 L266.22 416.05 L267.46 416.67 L268.70 417.29 L269.96 417.92 L271.22 418.55 L272.48 419.18 L273.75 419.82 L275.03 420.46 L276.32 421.11 L277.62 421.75 L278.92 422.41 L280.23 423.06 L281.54 423.72 L282.86 424.38 L284.19 425.05 L285.53 425.72 L286.88 426.39 L288.23 427.07 L289.59 427.75 L290.95 428.44 L292.33 429.13 L293.71 429.82 L295.10 430.51 L296.49 431.21 L297.90 431.92 L299.31 432.62 L300.72 433.34 L302.15 434.05 L303.58 434.77 L305.02 435.49 L306.47 436.22 L307.92 436.95 L309.39 437.68 L310.86 438.42 L312.34 439.16 L313.82 439.90 L315.31 440.65 L316.82 441.40 L318.32 442.16 L319.84 442.92 L321.36 443.68 L322.90 444.45 L324.43 445.22 L325.98 446.00" fill="none" stroke="#1e90ff" stroke-width="2.00" stroke-dasharray="6.22 2.69"/>
<path d="M75.30 454.50 L75.80 453.38 L76.30 452.32 L76.80 451.31 L77.30 450.36 L77.79 449.45 L78.29 448.60 L78.79 447.79 L79.29 447.02 L79.79 446.30 L80.29 445.61 L80.79 444.97 L81.29 444.35 L81.79 443.78 L82.28 443.24 L82.78 442.73 L83.28 442.25 L83.78 441.79 L84.28 441.37 L84.78 440.97 L85.28 440.60 L85.78 440.26 L86.28 439.93 L86.77 439.63 L87.27 439.35 L87.77 439.09 L88.27 438.86 L88.77 438.64 L89.27 438.43 L89.77 438.25 L90.27 438.08 L90.77 437.93 L91.26 437.79 L91.76 437.67 L92.26 437.57 L93.26 437.39 L94.26 437.27 L95.26 437.19 L96.25 437.16 L97.25 437.17 L98.25 437.21 L99.25 437.29 L100.24 437.40 L101.24 437.54 L102.24 437.70 L103.24 437.89 L103.74 437.99 L104.24 438.10 L104.73 438.22 L105.23 438.34 L105.73 438.46 L106.23 438.59 L106.73 438.72 L107.23 438.86 L107.73 439.01 L108.23 439.15 L108.73 439.30 L109.22 439.46 L109.72 439.62 L110.22 439.78 L110.72 439.94 L111.22 440.11 L111.72 440.28 L112.22 440.46 L112.72 440.63 L113.22 440.81 L113.71 441.00 L114.21 441.18 L114.71 441.37 L115.21 441.56 L115.71 441.75 L116.21 441.95 L116.71 442.14 L117.21 442.34 L117.71 442.54 L118.20 442.75 L118.70 442.95 L119.20 443.16 L119.70 443.36 L120.20 443.57 L120.70 443.79 L121.20 444.00 L121.70 444.21 L122.20 444.43 L122.69 444.65 L123.19 444.87 L123.69 445.08 L124.19 445.31 L124.69 445.53 L125.19 445.75 L125.69 445.98 L126.19 446.20 L126.69 446.43 L127.19 446.66 L127.68 446.88 L128.18 447.11 L128.68 447.34 L129.18 447.57 L129.68 447.81 L130.18 448.04 L130.68 448.27 L131.18 448.51 L131.68 448.74 L132.17 448.98 L132.67 449.21 L133.17 449.45 L133.67 449.69 L134.17 449.92 L134.67 450.16 L135.17 450.40 L135.67 450.64 L136.17 450.88 L136.66 451.12 L137.16 451.36 L137.66 451.60 L138.16 451.85 L138.66 452.09 L139.16 452.33 L139.66 452.57 L140.16 452.82 L140.66 453.06 L141.15 453.31 L141.65 453.55 L142.15 453.80 L142.65 454.04 L143.15 454.29 L143.65 454.53 L144.15 454.78 L144.65 455.02 L145.15 455.27 L145.64 455.52 L146.14 455.76 L146.64 456.01 L147.14 456.26 L147.64 456.51 L148.14 456.75 L148.64 457.00 L149.14 457.25 L149.64 457.50 L150.13 457.75 L150.63 458.00 L151.13 458.25 L151.63 458.49 L152.13 458.74 L152.63 458.99 L153.13 459.24 L153.63 459.49 L154.13 459.74 L154.62 459.99 L155.12 460.24 L155.62 460.49 L156.12 460.74 L156.62 460.99 L157.12 461.24 L157.62 461.49 L158.12 461.74 L158.62 462.00 L159.11 462.25 L159.61 462.50 L160.11 462.75 L160.61 463.00 L161.11 463.25 L161.61 463.50 L162.11 463.75 L162.61 464.00 L163.11 464.26 L163.60 464.51 L164.10 464.76 L164.60 465.01 L165.10 465.26 L165.60 465.51 L166.10 465.77 L166.60 466.02 L167.10 466.27 L167.60 466.52 L168.09 466.77 L168.59 467.03 L169.09 467.28 L169.59 467.53 L170.09 467.78 L170.59 468.03 L171.09 468.29 L171.59 468.54 L172.09 468.79 L172.58 469.04 L173.08 469.30 L173.58 469.55 L174.08 469.80 L174.58 470.05" fill="none" stroke="#ff0000" stroke-width="2.00" stroke-dasharray="6.22 2.69"/>
<path d="M75.30 553.90 L75.78 553.83 L76.26 553.77 L76.74 553.72 L77.21 553.66 L77.69 553.60 L78.17 553.54 L78.65 553.47 L79.13 553.39 L79.61 553.30 L80.10 553.20 L80.63 553.07 L81.16 552.92 L81.69 552.76 L82.23 552.59 L82.77 552.41 L83.31 552.22 L83.84 552.04 L84.37 551.85 L84.89 551.67 L85.40 551.50 L85.85 551.34 L86.30 551.18 L86.74 551.02 L87.17 550.86 L87.60 550.70 L88.03 550.54 L88.46 550.39 L88.90 550.25 L89.34 550.12 L89.80 550.00 L90.29 549.89 L90.79 549.79 L91.29 549.71 L91.79 549.63 L92.30 549.56 L92.81 549.50 L93.34 549.45 L93.88 549.39 L94.43 549.35 L95.00 549.30 L95.72 549.25 L96.47 549.22 L97.25 549.19 L98.04 549.17 L98.85 549.16 L99.66 549.15 L100.48 549.14 L101.29 549.13 L102.10 549.12 L102.90 549.10 L103.68 549.07 L104.44 549.05 L105.20 549.02 L105.95 548.99 L106.71 548.96 L107.47 548.92 L108.26 548.89 L109.07 548.86 L109.92 548.83 L110.80 548.80 L112.06 548.76 L113.40 548.73 L114.80 548.70 L116.25 548.67 L117.73 548.64 L119.22 548.60 L120.71 548.57 L122.18 548.52 L123.62 548.47 L125.00 548.40 L126.24 548.33 L127.50 548.26 L128.76 548.19 L130.02 548.11 L131.25 548.02 L132.46 547.93 L133.62 547.83 L134.72 547.73 L135.75 547.62 L136.70 547.50 L137.26 547.42 L137.78 547.35 L138.27 547.27 L138.74 547.20 L139.19 547.11 L139.63 547.03 L140.07 546.93 L140.50 546.83 L140.95 546.72 L141.40 546.60 L141.87 546.47 L142.33 546.34 L142.80 546.21 L143.26 546.08 L143.72 545.93 L144.18 545.77 L144.64 545.59 L145.10 545.39 L145.55 545.16 L146.00 544.90 L146.54 544.54 L147.08 544.12 L147.61 543.66 L148.14 543.16 L148.67 542.64 L149.19 542.11 L149.72 541.57 L150.24 541.03 L150.77 540.50 L151.30 540.00 L155.90 502.30 L161.20 533.80 L161.66 534.71 L162.10 535.65 L162.52 536.62 L162.95 537.60 L163.38 538.56 L163.82 539.49 L164.29 540.38 L164.78 541.21 L165.32 541.95 L165.90 542.60 L166.40 543.05 L166.92 543.44 L167.45 543.79 L168.01 544.10 L168.58 544.38 L169.17 544.63 L169.77 544.86 L170.40 545.08 L171.04 545.29 L171.70 545.50 L172.53 545.75 L173.41 545.98 L174.33 546.18 L175.27 546.37 L176.24 546.53 L177.22 546.67 L178.20 546.78 L179.18 546.88 L180.15 546.95 L181.10 547.00 L182.03 547.02 L182.96 547.00 L183.89 546.96 L184.81 546.89 L185.74 546.80 L186.67 546.70 L187.60 546.60 L188.53 546.49 L189.46 546.39 L190.40 546.30 L191.34 546.21 L192.26 546.11 L193.17 546.01 L194.08 545.91 L195.00 545.80 L195.93 545.69 L196.89 545.59 L197.88 545.49 L198.91 545.39 L200.00 545.30 L201.59 545.19 L203.27 545.11 L205.03 545.04 L206.86 544.97 L208.74 544.91 L210.64 544.84 L212.56 544.76 L214.47 544.67 L216.35 544.55 L218.20 544.40 L220.03 544.23 L221.86 544.04 L223.70 543.85 L225.53 543.63 L227.36 543.40 L229.20 543.16 L231.03 542.90 L232.85 542.62 L234.68 542.32 L236.50 542.00 L238.33 541.66 L240.16 541.30 L241.98 540.92 L243.80 540.52 L245.62 540.11 L247.44 539.67 L249.26 539.23 L251.07 538.77 L252.89 538.29 L254.70 537.80 L256.54 537.29 L258.37 536.76 L260.21 536.22 L262.04 535.66 L263.88 535.09 L265.71 534.50 L267.54 533.89 L269.36 533.28 L271.18 532.64 L273.00 532.00 L274.83 531.33 L276.66 530.65 L278.49 529.94 L280.31 529.22 L282.13 528.49 L283.94 527.75 L285.76 526.99 L287.57 526.23 L289.39 525.47 L291.20 524.70 L293.05 523.91 L294.91 523.09 L296.77 522.26 L298.64 521.42 L300.51 520.58 L302.36 519.73 L304.19 518.90 L306.00 518.08 L307.77 517.28 L309.50 516.50 L311.03 515.82 L312.60 515.13 L314.20 514.42 L315.78 513.73 L317.33 513.05 L318.81 512.40 L320.20 511.78 L321.46 511.22 L322.57 510.72 L323.50 510.30 L323.83 510.15 L324.13 510.01 L324.40 509.88 L324.65 509.76 L324.88 509.65 L325.10 509.54 L325.32 509.43 L325.53 509.33 L325.76 509.22 L326.00 509.10" fill="none" stroke="#000" stroke-width="2.00" stroke-linejoin="round"/>
<path d="M125.00 548.40 L126.75 548.40 L128.50 548.40 L130.25 548.40 L132.00 548.40 L133.75 548.41 L135.50 548.41 L137.25 548.41 L139.00 548.41 L140.75 548.40 L142.50 548.40 L144.27 548.40 L146.08 548.39 L147.90 548.39 L149.73 548.38 L151.55 548.38 L153.35 548.37 L155.11 548.36 L156.81 548.34 L158.45 548.32 L160.00 548.30 L161.15 548.29 L162.31 548.29 L163.47 548.29 L164.61 548.30 L165.70 548.30 L166.74 548.28 L167.71 548.25 L168.59 548.20 L169.36 548.12 L170.00 548.00 L170.23 547.94 L170.44 547.88 L170.62 547.82 L170.78 547.76 L170.93 547.69 L171.07 547.61 L171.21 547.53 L171.36 547.43 L171.52 547.32 L171.70 547.20 L172.01 546.97 L172.32 546.71 L172.65 546.42 L172.98 546.10 L173.32 545.76 L173.67 545.39 L174.04 545.00 L174.41 544.58 L174.80 544.15 L175.20 543.70 L175.90 542.90 L176.64 542.03 L177.43 541.09 L178.25 540.08 L179.09 539.02 L179.96 537.92 L180.83 536.78 L181.69 535.60 L182.56 534.41 L183.40 533.20 L184.44 531.66 L185.48 530.03 L186.53 528.34 L187.58 526.59 L188.64 524.81 L189.70 522.99 L190.76 521.16 L191.81 519.33 L192.86 517.50 L193.90 515.70 L194.95 513.89 L195.97 512.11 L196.98 510.35 L197.99 508.59 L199.00 506.81 L200.02 504.99 L201.06 503.12 L202.13 501.17 L203.24 499.14 L204.40 497.00 L206.09 493.84 L207.85 490.52 L209.68 487.04 L211.56 483.43 L213.49 479.70 L215.46 475.88 L217.46 471.98 L219.49 468.02 L221.54 464.02 L223.60 460.00 L226.07 455.18 L228.58 450.26 L231.13 445.25 L233.72 440.15 L236.35 434.96 L239.02 429.68 L241.73 424.30 L244.48 418.83 L247.27 413.26 L250.10 407.60 L253.76 400.26 L257.84 392.02 L262.19 383.22 L266.65 374.18 L271.07 365.22 L275.27 356.68 L279.10 348.87 L282.41 342.12 L285.03 336.75 L286.80 333.10 L287.06 332.56 L287.29 332.09 L287.48 331.68 L287.64 331.33 L287.79 331.01 L287.93 330.72 L288.06 330.44 L288.20 330.15 L288.34 329.84 L288.50 329.50" fill="none" stroke="#000" stroke-width="2.00" stroke-dasharray="10.75 2.69 1.68 2.69"/>
</g>
<rect x="75.30" y="331.60" width="248.20" height="247.60" fill="none" stroke="#000" stroke-width="0.9"/>
<path d="M75.30 579.20V583.20M124.94 579.20V583.20M174.58 579.20V583.20M224.22 579.20V583.20M273.86 579.20V583.20M323.50 579.20V583.20M75.30 579.20H71.30M75.30 529.68H71.30M75.30 480.16H71.30M75.30 430.64H71.30M75.30 381.12H71.30M75.30 331.60H71.30" stroke="#000" stroke-width="0.9" fill="none"/>
<path d="M90.24 579.20V581.50M98.98 579.20V581.50M105.19 579.20V581.50M110.00 579.20V581.50M113.93 579.20V581.50M117.25 579.20V581.50M120.13 579.20V581.50M122.67 579.20V581.50M139.88 579.20V581.50M148.62 579.20V581.50M154.83 579.20V581.50M159.64 579.20V581.50M163.57 579.20V581.50M166.89 579.20V581.50M169.77 579.20V581.50M172.31 579.20V581.50M189.52 579.20V581.50M198.26 579.20V581.50M204.47 579.20V581.50M209.28 579.20V581.50M213.21 579.20V581.50M216.53 579.20V581.50M219.41 579.20V581.50M221.95 579.20V581.50M239.16 579.20V581.50M247.90 579.20V581.50M254.11 579.20V581.50M258.92 579.20V581.50M262.85 579.20V581.50M266.17 579.20V581.50M269.05 579.20V581.50M271.59 579.20V581.50M288.80 579.20V581.50M297.54 579.20V581.50M303.75 579.20V581.50M308.56 579.20V581.50M312.49 579.20V581.50M315.81 579.20V581.50M318.69 579.20V581.50M321.23 579.20V581.50M75.30 564.29H73.00M75.30 555.57H73.00M75.30 549.39H73.00M75.30 544.59H73.00M75.30 540.67H73.00M75.30 537.35H73.00M75.30 534.48H73.00M75.30 531.95H73.00M75.30 514.77H73.00M75.30 506.05H73.00M75.30 499.87H73.00M75.30 495.07H73.00M75.30 491.15H73.00M75.30 487.83H73.00M75.30 484.96H73.00M75.30 482.43H73.00M75.30 465.25H73.00M75.30 456.53H73.00M75.30 450.35H73.00M75.30 445.55H73.00M75.30 441.63H73.00M75.30 438.31H73.00M75.30 435.44H73.00M75.30 432.91H73.00M75.30 415.73H73.00M75.30 407.01H73.00M75.30 400.83H73.00M75.30 396.03H73.00M75.30 392.11H73.00M75.30 388.79H73.00M75.30 385.92H73.00M75.30 383.39H73.00M75.30 366.21H73.00M75.30 357.49H73.00M75.30 351.31H73.00M75.30 346.51H73.00M75.30 342.59H73.00M75.30 339.27H73.00M75.30 336.40H73.00M75.30 333.87H73.00" stroke="#000" stroke-width="0.7" fill="none"/>
<g clip-path="url(#c3)">
<polygon points="528.57,587.25 992.06,330.50 1073.80,330.50 1073.80,587.25" fill="#808080" fill-opacity="0.3"/>
<path d="M463.30 589.41 L463.30 588.32 L463.30 579.85 L463.30 572.27 L463.30 565.41 L463.31 559.15 L463.31 553.40 L463.31 548.07 L463.31 543.10 L463.31 538.46 L463.32 534.10 L463.32 529.99 L463.32 526.11 L463.33 522.42 L463.33 518.91 L463.34 515.57 L463.34 512.37 L463.35 509.31 L463.35 506.38 L463.36 503.56 L463.37 500.85 L463.37 498.24 L463.38 495.72 L463.39 493.29 L463.40 490.94 L463.41 488.66 L463.42 486.45 L463.43 484.31 L463.44 482.24 L463.46 480.22 L463.47 478.26 L463.48 476.35 L463.50 474.49 L463.51 472.68 L463.53 470.91 L463.55 469.19 L463.57 467.51 L463.59 465.87 L463.60 464.27 L463.63 462.70 L463.65 461.17 L463.67 459.67 L463.69 458.20 L463.72 456.77 L463.74 455.36 L463.77 453.98 L463.80 452.63 L463.83 451.30 L463.86 450.00 L463.89 448.73 L463.92 447.48 L463.95 446.25 L463.99 445.04 L464.02 443.86 L464.06 442.70 L464.10 441.55 L464.14 440.43 L464.18 439.32 L464.22 438.24 L464.26 437.17 L464.31 436.12 L464.35 435.08 L464.40 434.06 L464.45 433.06 L464.50 432.07 L464.55 431.10 L464.60 430.15 L464.66 429.21 L464.71 428.28 L464.77 427.36 L464.83 426.46 L464.89 425.58 L464.95 424.70 L465.02 423.84 L465.08 422.99 L465.15 422.16 L465.22 421.33 L465.29 420.52 L465.36 419.71 L465.43 418.92 L465.51 418.14 L465.58 417.37 L465.66 416.61 L465.74 415.86 L465.83 415.13 L465.91 414.40 L466.00 413.68 L466.08 412.97 L466.17 412.27 L466.27 411.58 L466.36 410.90 L466.45 410.22 L466.55 409.56 L466.65 408.90 L466.75 408.26 L466.86 407.62 L466.96 406.99 L467.07 406.37 L467.18 405.75 L467.29 405.15 L467.41 404.55 L467.52 403.96 L467.64 403.37 L467.76 402.80 L467.88 402.23 L468.01 401.67 L468.14 401.12 L468.27 400.57 L468.40 400.03 L468.53 399.50 L468.67 398.97 L468.81 398.46 L468.95 397.94 L469.09 397.44 L469.24 396.94 L469.39 396.45 L469.54 395.96 L469.69 395.48 L469.85 395.01 L470.01 394.54 L470.17 394.08 L470.33 393.63 L470.50 393.18 L470.66 392.74 L470.84 392.30 L471.01 391.87 L471.19 391.45 L471.55 390.62 L471.92 389.81 L472.30 389.02 L472.70 388.26 L473.10 387.51 L473.52 386.79 L473.95 386.09 L474.39 385.41 L474.84 384.75 L475.31 384.11 L475.78 383.49 L476.27 382.89 L476.78 382.31 L477.29 381.75 L477.82 381.21 L478.36 380.69 L478.91 380.18 L479.48 379.70 L480.06 379.23 L480.66 378.78 L481.27 378.35 L481.89 377.93 L482.53 377.54 L483.18 377.16 L483.84 376.80 L484.53 376.45 L485.22 376.13 L485.93 375.81 L486.66 375.52 L487.40 375.24 L488.16 374.98 L488.93 374.74 L489.72 374.51 L490.52 374.29 L491.34 374.10 L492.18 373.92 L493.03 373.75 L493.90 373.60 L494.79 373.47 L495.70 373.35 L496.62 373.24 L497.56 373.15 L498.51 373.08 L499.49 373.02 L500.48 372.98 L501.49 372.95 L502.51 372.93 L503.56 372.93 L504.62 372.95 L505.71 372.98 L506.81 373.02 L507.93 373.07 L508.49 373.11 L509.07 373.15 L509.64 373.19 L510.23 373.23 L510.81 373.28 L511.40 373.33 L512.00 373.38 L512.60 373.44 L513.21 373.50 L513.82 373.56 L514.43 373.63 L515.05 373.70 L515.68 373.78 L516.31 373.85 L516.95 373.94 L517.59 374.02 L518.24 374.11 L518.89 374.20 L519.54 374.29 L520.21 374.39 L520.87 374.49 L521.54 374.59 L522.22 374.70 L522.90 374.81 L523.59 374.92 L524.28 375.04 L524.98 375.16 L525.69 375.28 L526.40 375.41 L527.11 375.54 L527.83 375.67 L528.55 375.80 L529.29 375.94 L530.02 376.08 L530.76 376.23 L531.51 376.37 L532.26 376.52 L533.02 376.68 L533.78 376.83 L534.55 376.99 L535.33 377.16 L536.11 377.32 L536.89 377.49 L537.68 377.66 L538.48 377.83 L539.28 378.01 L540.09 378.19 L540.91 378.37 L541.72 378.56 L542.55 378.75 L543.38 378.94 L544.22 379.13 L545.06 379.33 L545.91 379.53 L546.76 379.73 L547.63 379.94 L548.49 380.15 L549.36 380.36 L550.24 380.57 L551.13 380.79 L552.02 381.01 L552.91 381.23 L553.81 381.45 L554.72 381.68 L555.64 381.91 L556.56 382.14 L557.48 382.38 L558.42 382.62 L559.36 382.86 L560.30 383.10 L561.25 383.35 L562.21 383.60 L563.17 383.85 L564.14 384.10 L565.12 384.36 L566.10 384.62 L567.09 384.88 L568.08 385.14 L569.08 385.41 L570.09 385.68 L571.10 385.95 L572.12 386.22 L573.15 386.50 L574.18 386.78 L575.22 387.06 L576.27 387.35 L577.32 387.63 L578.38 387.92 L579.45 388.21 L580.52 388.51 L581.60 388.81 L582.68 389.10 L583.78 389.41 L584.87 389.71 L585.98 390.02 L587.09 390.33 L588.21 390.64 L589.33 390.95 L590.47 391.27 L591.61 391.59 L592.75 391.91 L593.90 392.23 L595.06 392.56 L596.23 392.89 L597.40 393.22 L598.58 393.55 L599.77 393.88 L600.96 394.22 L602.16 394.56 L603.37 394.91 L604.58 395.25 L605.81 395.60 L607.03 395.95 L608.27 396.30 L609.51 396.65 L610.76 397.01 L612.02 397.37 L613.28 397.73 L614.55 398.09 L615.83 398.46 L617.12 398.83 L618.41 399.20 L619.71 399.57 L621.02 399.95 L622.33 400.33 L623.65 400.71 L624.98 401.09 L626.32 401.47 L627.66 401.86 L629.01 402.25 L630.37 402.64 L631.74 403.04 L633.11 403.43 L634.49 403.83 L635.88 404.23 L637.27 404.64 L638.68 405.04 L640.09 405.45 L641.51 405.86 L642.93 406.27 L644.36 406.69 L645.80 407.11 L647.25 407.53 L648.71 407.95 L650.17 408.37 L651.64 408.80 L653.12 409.23 L654.61 409.66 L656.11 410.09 L657.61 410.53 L659.12 410.97 L660.64 411.41 L662.16 411.85 L663.70 412.30 L665.24 412.75 L666.79 413.20 L668.34 413.65 L669.91 414.11 L671.48 414.56 L673.06 415.02 L674.65 415.49 L676.25 415.95 L678.80 415.95 L678.80 586.25 L463.30 586.25 Z" fill="#1e90ff" fill-opacity="0.3"/>
<line x1="528.57" y1="587.25" x2="992.06" y2="330.50" stroke="#808080" stroke-width="1.7"/>
<path d="M463.30 589.41 L463.30 588.32 L463.30 579.85 L463.30 572.27 L463.30 565.41 L463.31 559.15 L463.31 553.40 L463.31 548.07 L463.31 543.10 L463.31 538.46 L463.32 534.10 L463.32 529.99 L463.32 526.11 L463.33 522.42 L463.33 518.91 L463.34 515.57 L463.34 512.37 L463.35 509.31 L463.35 506.38 L463.36 503.56 L463.37 500.85 L463.37 498.24 L463.38 495.72 L463.39 493.29 L463.40 490.94 L463.41 488.66 L463.42 486.45 L463.43 484.31 L463.44 482.24 L463.46 480.22 L463.47 478.26 L463.48 476.35 L463.50 474.49 L463.51 472.68 L463.53 470.91 L463.55 469.19 L463.57 467.51 L463.59 465.87 L463.60 464.27 L463.63 462.70 L463.65 461.17 L463.67 459.67 L463.69 458.20 L463.72 456.77 L463.74 455.36 L463.77 453.98 L463.80 452.63 L463.83 451.30 L463.86 450.00 L463.89 448.73 L463.92 447.48 L463.95 446.25 L463.99 445.04 L464.02 443.86 L464.06 442.70 L464.10 441.55 L464.14 440.43 L464.18 439.32 L464.22 438.24 L464.26 437.17 L464.31 436.12 L464.35 435.08 L464.40 434.06 L464.45 433.06 L464.50 432.07 L464.55 431.10 L464.60 430.15 L464.66 429.21 L464.71 428.28 L464.77 427.36 L464.83 426.46 L464.89 425.58 L464.95 424.70 L465.02 423.84 L465.08 422.99 L465.15 422.16 L465.22 421.33 L465.29 420.52 L465.36 419.71 L465.43 418.92 L465.51 418.14 L465.58 417.37 L465.66 416.61 L465.74 415.86 L465.83 415.13 L465.91 414.40 L466.00 413.68 L466.08 412.97 L466.17 412.27 L466.27 411.58 L466.36 410.90 L466.45 410.22 L466.55 409.56 L466.65 408.90 L466.75 408.26 L466.86 407.62 L466.96 406.99 L467.07 406.37 L467.18 405.75 L467.29 405.15 L467.41 404.55 L467.52 403.96 L467.64 403.37 L467.76 402.80 L467.88 402.23 L468.01 401.67 L468.14 401.12 L468.27 400.57 L468.40 400.03 L468.53 399.50 L468.67 398.97 L468.81 398.46 L468.95 397.94 L469.09 397.44 L469.24 396.94 L469.39 396.45 L469.54 395.96 L469.69 395.48 L469.85 395.01 L470.01 394.54 L470.17 394.08 L470.33 393.63 L470.50 393.18 L470.66 392.74 L470.84 392.30 L471.01 391.87 L471.19 391.45 L471.55 390.62 L471.92 389.81 L472.30 389.02 L472.70 388.26 L473.10 387.51 L473.52 386.79 L473.95 386.09 L474.39 385.41 L474.84 384.75 L475.31 384.11 L475.78 383.49 L476.27 382.89 L476.78 382.31 L477.29 381.75 L477.82 381.21 L478.36 380.69 L478.91 380.18 L479.48 379.70 L480.06 379.23 L480.66 378.78 L481.27 378.35 L481.89 377.93 L482.53 377.54 L483.18 377.16 L483.84 376.80 L484.53 376.45 L485.22 376.13 L485.93 375.81 L486.66 375.52 L487.40 375.24 L488.16 374.98 L488.93 374.74 L489.72 374.51 L490.52 374.29 L491.34 374.10 L492.18 373.92 L493.03 373.75 L493.90 373.60 L494.79 373.47 L495.70 373.35 L496.62 373.24 L497.56 373.15 L498.51 373.08 L499.49 373.02 L500.48 372.98 L501.49 372.95 L502.51 372.93 L503.56 372.93 L504.62 372.95 L505.71 372.98 L506.81 373.02 L507.93 373.07 L508.49 373.11 L509.07 373.15 L509.64 373.19 L510.23 373.23 L510.81 373.28 L511.40 373.33 L512.00 373.38 L512.60 373.44 L513.21 373.50 L513.82 373.56 L514.43 373.63 L515.05 373.70 L515.68 373.78 L516.31 373.85 L516.95 373.94 L517.59 374.02 L518.24 374.11 L518.89 374.20 L519.54 374.29 L520.21 374.39 L520.87 374.49 L521.54 374.59 L522.22 374.70 L522.90 374.81 L523.59 374.92 L524.28 375.04 L524.98 375.16 L525.69 375.28 L526.40 375.41 L527.11 375.54 L527.83 375.67 L528.55 375.80 L529.29 375.94 L530.02 376.08 L530.76 376.23 L531.51 376.37 L532.26 376.52 L533.02 376.68 L533.78 376.83 L534.55 376.99 L535.33 377.16 L536.11 377.32 L536.89 377.49 L537.68 377.66 L538.48 377.83 L539.28 378.01 L540.09 378.19 L540.91 378.37 L541.72 378.56 L542.55 378.75 L543.38 378.94 L544.22 379.13 L545.06 379.33 L545.91 379.53 L546.76 379.73 L547.63 379.94 L548.49 380.15 L549.36 380.36 L550.24 380.57 L551.13 380.79 L552.02 381.01 L552.91 381.23 L553.81 381.45 L554.72 381.68 L555.64 381.91 L556.56 382.14 L557.48 382.38 L558.42 382.62 L559.36 382.86 L560.30 383.10 L561.25 383.35 L562.21 383.60 L563.17 383.85 L564.14 384.10 L565.12 384.36 L566.10 384.62 L567.09 384.88 L568.08 385.14 L569.08 385.41 L570.09 385.68 L571.10 385.95 L572.12 386.22 L573.15 386.50 L574.18 386.78 L575.22 387.06 L576.27 387.35 L577.32 387.63 L578.38 387.92 L579.45 388.21 L580.52 388.51 L581.60 388.81 L582.68 389.10 L583.78 389.41 L584.87 389.71 L585.98 390.02 L587.09 390.33 L588.21 390.64 L589.33 390.95 L590.47 391.27 L591.61 391.59 L592.75 391.91 L593.90 392.23 L595.06 392.56 L596.23 392.89 L597.40 393.22 L598.58 393.55 L599.77 393.88 L600.96 394.22 L602.16 394.56 L603.37 394.91 L604.58 395.25 L605.81 395.60 L607.03 395.95 L608.27 396.30 L609.51 396.65 L610.76 397.01 L612.02 397.37 L613.28 397.73 L614.55 398.09 L615.83 398.46 L617.12 398.83 L618.41 399.20 L619.71 399.57 L621.02 399.95 L622.33 400.33 L623.65 400.71 L624.98 401.09 L626.32 401.47 L627.66 401.86 L629.01 402.25 L630.37 402.64 L631.74 403.04 L633.11 403.43 L634.49 403.83 L635.88 404.23 L637.27 404.64 L638.68 405.04 L640.09 405.45 L641.51 405.86 L642.93 406.27 L644.36 406.69 L645.80 407.11 L647.25 407.53 L648.71 407.95 L650.17 408.37 L651.64 408.80 L653.12 409.23 L654.61 409.66 L656.11 410.09 L657.61 410.53 L659.12 410.97 L660.64 411.41 L662.16 411.85 L663.70 412.30 L665.24 412.75 L666.79 413.20 L668.34 413.65 L669.91 414.11 L671.48 414.56 L673.06 415.02 L674.65 415.49 L676.25 415.95" fill="none" stroke="#1e90ff" stroke-width="2.00" stroke-linejoin="round"/>
<path d="M473.41 589.41 L473.43 585.59 L473.44 579.91 L473.44 574.50 L473.45 569.34 L473.45 564.42 L473.46 559.71 L473.46 555.19 L473.47 550.85 L473.47 546.67 L473.48 542.65 L473.49 538.76 L473.50 535.02 L473.51 531.39 L473.52 527.88 L473.53 524.49 L473.54 521.19 L473.55 517.99 L473.56 514.89 L473.57 511.87 L473.59 508.93 L473.60 506.07 L473.62 503.28 L473.63 500.57 L473.65 497.92 L473.67 495.33 L473.68 492.81 L473.70 490.34 L473.72 487.94 L473.74 485.58 L473.76 483.28 L473.79 481.03 L473.81 478.82 L473.84 476.66 L473.86 474.54 L473.89 472.47 L473.91 470.44 L473.94 468.44 L473.97 466.49 L474.00 464.57 L474.03 462.69 L474.07 460.84 L474.10 459.03 L474.14 457.25 L474.17 455.50 L474.21 453.78 L474.25 452.09 L474.29 450.43 L474.33 448.80 L474.37 447.19 L474.42 445.62 L474.46 444.06 L474.51 442.54 L474.55 441.03 L474.60 439.56 L474.65 438.10 L474.71 436.67 L474.76 435.26 L474.81 433.87 L474.87 432.51 L474.93 431.16 L474.99 429.83 L475.05 428.53 L475.11 427.24 L475.17 425.98 L475.24 424.73 L475.30 423.50 L475.37 422.29 L475.44 421.09 L475.51 419.92 L475.59 418.76 L475.66 417.62 L475.74 416.49 L475.82 415.38 L475.90 414.29 L475.98 413.21 L476.06 412.15 L476.15 411.10 L476.24 410.06 L476.33 409.05 L476.42 408.04 L476.51 407.05 L476.60 406.08 L476.70 405.12 L476.80 404.17 L476.90 403.23 L477.00 402.31 L477.11 401.40 L477.21 400.51 L477.32 399.62 L477.43 398.75 L477.55 397.89 L477.66 397.05 L477.78 396.21 L477.90 395.39 L478.02 394.58 L478.14 393.78 L478.27 392.99 L478.40 392.22 L478.53 391.45 L478.66 390.70 L478.79 389.96 L478.93 389.22 L479.07 388.50 L479.21 387.79 L479.35 387.09 L479.50 386.40 L479.65 385.72 L479.80 385.05 L479.95 384.40 L480.11 383.75 L480.27 383.11 L480.43 382.48 L480.59 381.86 L480.76 381.25 L480.92 380.65 L481.09 380.06 L481.27 379.48 L481.44 378.90 L481.62 378.34 L481.80 377.79 L481.99 377.24 L482.17 376.71 L482.36 376.18 L482.55 375.66 L482.75 375.15 L482.95 374.65 L483.15 374.16 L483.35 373.68 L483.55 373.20 L483.76 372.74 L483.97 372.28 L484.19 371.83 L484.41 371.39 L484.63 370.95 L484.85 370.53 L485.07 370.11 L485.30 369.70 L485.53 369.30 L485.77 368.91 L486.01 368.52 L486.25 368.14 L486.49 367.77 L486.74 367.41 L486.99 367.06 L487.24 366.71 L487.76 366.04 L488.28 365.39 L488.82 364.78 L489.38 364.19 L489.95 363.63 L490.53 363.10 L491.12 362.60 L491.73 362.12 L492.35 361.67 L492.98 361.25 L493.63 360.85 L494.29 360.48 L494.97 360.13 L495.66 359.81 L496.37 359.51 L497.09 359.23 L497.82 358.98 L498.58 358.74 L499.34 358.54 L500.12 358.35 L500.92 358.18 L501.73 358.04 L502.56 357.92 L503.41 357.81 L504.27 357.73 L505.15 357.67 L506.04 357.62 L506.95 357.59 L507.88 357.59 L508.82 357.60 L509.78 357.62 L510.76 357.67 L511.76 357.73 L512.77 357.81 L513.80 357.90 L514.85 358.01 L515.92 358.13 L516.46 358.20 L517.01 358.27 L517.55 358.35 L518.11 358.42 L518.67 358.51 L519.23 358.59 L519.80 358.68 L520.37 358.77 L520.95 358.87 L521.53 358.97 L522.12 359.07 L522.71 359.17 L523.31 359.28 L523.91 359.39 L524.51 359.51 L525.12 359.63 L525.74 359.75 L526.36 359.87 L526.98 360.00 L527.62 360.13 L528.25 360.26 L528.89 360.40 L529.54 360.54 L530.19 360.68 L530.84 360.82 L531.50 360.97 L532.17 361.12 L532.84 361.27 L533.51 361.42 L534.19 361.58 L534.88 361.74 L535.57 361.90 L536.26 362.07 L536.96 362.23 L537.67 362.40 L538.38 362.58 L539.10 362.75 L539.82 362.93 L540.55 363.11 L541.28 363.29 L542.02 363.47 L542.76 363.66 L543.51 363.85 L544.26 364.04 L545.02 364.23 L545.79 364.42 L546.56 364.62 L547.33 364.82 L548.11 365.02 L548.90 365.23 L549.69 365.43 L550.49 365.64 L551.29 365.85 L552.10 366.06 L552.91 366.28 L553.73 366.49 L554.56 366.71 L555.39 366.93 L556.23 367.15 L557.07 367.38 L557.92 367.60 L558.77 367.83 L559.63 368.06 L560.49 368.29 L561.36 368.52 L562.24 368.76 L563.12 369.00 L564.01 369.24 L564.91 369.48 L565.81 369.72 L566.71 369.96 L567.62 370.21 L568.54 370.46 L569.46 370.71 L570.39 370.96 L571.33 371.22 L572.27 371.47 L573.22 371.73 L574.17 371.99 L575.13 372.25 L576.10 372.52 L577.07 372.78 L578.05 373.05 L579.03 373.32 L580.02 373.59 L581.02 373.86 L582.02 374.13 L583.03 374.41 L584.04 374.69 L585.07 374.97 L586.09 375.25 L587.13 375.53 L588.17 375.82 L589.21 376.10 L590.27 376.39 L591.32 376.68 L592.39 376.98 L593.46 377.27 L594.54 377.57 L595.62 377.86 L596.72 378.16 L597.81 378.47 L598.92 378.77 L600.03 379.07 L601.15 379.38 L602.27 379.69 L603.40 380.00 L604.54 380.31 L605.68 380.63 L606.83 380.94 L607.99 381.26 L609.15 381.58 L610.32 381.90 L611.50 382.23 L612.68 382.55 L613.87 382.88 L615.07 383.21 L616.27 383.54 L617.48 383.87 L618.70 384.21 L619.93 384.55 L621.16 384.89 L622.39 385.23 L623.64 385.57 L624.89 385.91 L626.15 386.26 L627.42 386.61 L628.69 386.96 L629.97 387.31 L631.26 387.67 L632.55 388.02 L633.85 388.38 L635.16 388.74 L636.47 389.10 L637.80 389.47 L639.12 389.83 L640.46 390.20 L641.80 390.57 L643.15 390.94 L644.51 391.32 L645.88 391.69 L647.25 392.07 L648.63 392.45 L650.02 392.83 L651.41 393.21 L652.81 393.60 L654.22 393.99 L655.64 394.38 L657.06 394.77 L658.49 395.16 L659.93 395.56 L661.38 395.96 L662.83 396.36 L664.29 396.76 L665.76 397.17 L667.24 397.57 L668.72 397.98 L670.21 398.39 L671.71 398.80 L673.21 399.22 L674.73 399.64 L676.25 400.05" fill="none" stroke="#1e90ff" stroke-width="2.00" stroke-dasharray="6.22 2.69"/>
<path d="M428.90 402.42 L429.39 401.89 L429.88 401.38 L430.38 400.91 L430.87 400.45 L431.36 400.03 L431.85 399.62 L432.35 399.24 L432.84 398.87 L433.33 398.53 L433.82 398.21 L434.31 397.90 L434.81 397.61 L435.30 397.34 L435.79 397.09 L436.28 396.85 L436.78 396.62 L437.27 396.41 L437.76 396.21 L438.25 396.03 L438.75 395.86 L439.24 395.70 L439.73 395.55 L440.22 395.41 L440.71 395.28 L441.21 395.16 L441.70 395.06 L442.68 394.87 L443.67 394.71 L444.65 394.59 L445.64 394.50 L446.62 394.43 L447.61 394.39 L448.59 394.37 L449.57 394.37 L450.56 394.39 L451.54 394.43 L452.53 394.49 L453.51 394.56 L454.50 394.65 L455.48 394.75 L456.47 394.86 L457.45 394.99 L458.44 395.12 L459.42 395.27 L460.40 395.42 L461.39 395.59 L462.37 395.76 L463.36 395.93 L464.34 396.12 L465.33 396.31 L466.31 396.51 L467.30 396.71 L468.28 396.92 L469.27 397.13 L469.76 397.24 L470.25 397.35 L470.74 397.46 L471.23 397.57 L471.73 397.68 L472.22 397.79 L472.71 397.91 L473.20 398.02 L473.70 398.13 L474.19 398.25 L474.68 398.37 L475.17 398.49 L475.66 398.60 L476.16 398.72 L476.65 398.84 L477.14 398.96 L477.63 399.08 L478.13 399.20 L478.62 399.33 L479.11 399.45 L479.60 399.57 L480.10 399.69 L480.59 399.82 L481.08 399.94 L481.57 400.07 L482.06 400.19 L482.56 400.32 L483.05 400.44 L483.54 400.57 L484.03 400.70 L484.53 400.82 L485.02 400.95 L485.51 401.08 L486.00 401.21 L486.49 401.34 L486.99 401.47 L487.48 401.60 L487.97 401.72 L488.46 401.85 L488.96 401.98 L489.45 402.11 L489.94 402.24 L490.43 402.38 L490.92 402.51 L491.42 402.64 L491.91 402.77 L492.40 402.90 L492.89 403.03 L493.39 403.16 L493.88 403.30 L494.37 403.43 L494.86 403.56 L495.36 403.69 L495.85 403.83 L496.34 403.96 L496.83 404.09 L497.32 404.22 L497.82 404.36 L498.31 404.49 L498.80 404.62 L499.29 404.76 L499.79 404.89 L500.28 405.03 L500.77 405.16 L501.26 405.29 L501.75 405.43 L502.25 405.56 L502.74 405.70 L503.23 405.83 L503.72 405.97 L504.22 406.10 L504.71 406.23 L505.20 406.37 L505.69 406.50 L506.19 406.64 L506.68 406.77 L507.17 406.91 L507.66 407.04 L508.15 407.18 L508.65 407.32 L509.14 407.45 L509.63 407.59 L510.12 407.72 L510.62 407.86 L511.11 407.99 L511.60 408.13 L512.09 408.26 L512.58 408.40 L513.08 408.53 L513.57 408.67 L514.06 408.81 L514.55 408.94 L515.05 409.08 L515.54 409.21 L516.03 409.35 L516.52 409.49 L517.01 409.62 L517.51 409.76 L518.00 409.89 L518.49 410.03 L518.98 410.17 L519.48 410.30 L519.97 410.44 L520.46 410.57 L520.95 410.71 L521.45 410.85 L521.94 410.98 L522.43 411.12 L522.92 411.26 L523.41 411.39 L523.91 411.53 L524.40 411.66 L524.89 411.80 L525.38 411.94 L525.88 412.07 L526.37 412.21 L526.86 412.35" fill="none" stroke="#ff0000" stroke-width="2.00" stroke-dasharray="6.22 2.69"/>
<path d="M428.90 565.90 L429.22 565.87 L429.53 565.85 L429.85 565.83 L430.16 565.81 L430.47 565.79 L430.79 565.77 L431.11 565.74 L431.43 565.70 L431.76 565.66 L432.10 565.60 L432.51 565.51 L432.92 565.41 L433.34 565.29 L433.76 565.16 L434.19 565.03 L434.63 564.89 L435.08 564.75 L435.54 564.62 L436.01 564.50 L436.50 564.40 L437.13 564.29 L437.78 564.18 L438.45 564.08 L439.14 563.99 L439.84 563.90 L440.56 563.83 L441.29 563.76 L442.02 563.70 L442.76 563.65 L443.50 563.60 L444.33 563.56 L445.18 563.54 L446.04 563.54 L446.91 563.54 L447.79 563.55 L448.67 563.57 L449.57 563.58 L450.47 563.60 L451.38 563.60 L452.30 563.60 L453.30 563.59 L454.30 563.58 L455.30 563.56 L456.31 563.55 L457.33 563.53 L458.37 563.51 L459.43 563.49 L460.52 563.46 L461.64 563.43 L462.80 563.40 L464.37 563.35 L466.05 563.29 L467.82 563.23 L469.63 563.16 L471.46 563.09 L473.30 563.01 L475.09 562.94 L476.83 562.86 L478.47 562.78 L480.00 562.70 L481.05 562.65 L482.05 562.60 L483.02 562.56 L483.96 562.51 L484.87 562.47 L485.76 562.42 L486.65 562.36 L487.53 562.29 L488.41 562.20 L489.30 562.10 L490.15 561.99 L491.01 561.89 L491.87 561.77 L492.72 561.65 L493.57 561.51 L494.40 561.37 L495.21 561.21 L496.00 561.02 L496.77 560.82 L497.50 560.60 L498.10 560.40 L498.69 560.19 L499.27 559.98 L499.84 559.76 L500.39 559.52 L500.92 559.26 L501.43 558.98 L501.91 558.68 L502.37 558.36 L502.80 558.00 L503.18 557.63 L503.54 557.25 L503.88 556.84 L504.19 556.41 L504.48 555.96 L504.76 555.49 L505.01 555.00 L505.26 554.49 L505.48 553.96 L505.70 553.40 L505.95 552.59 L506.14 551.69 L506.29 550.72 L506.41 549.70 L506.50 548.66 L506.59 547.62 L506.69 546.61 L506.79 545.65 L506.93 544.78 L507.10 544.00 L507.23 543.54 L507.36 543.08 L507.50 542.63 L507.64 542.20 L507.79 541.79 L507.94 541.41 L508.09 541.07 L508.26 540.76 L508.43 540.51 L508.60 540.30 L508.69 540.21 L508.79 540.14 L508.89 540.08 L508.99 540.03 L509.09 539.98 L509.19 539.95 L509.30 539.93 L509.40 539.91 L509.50 539.90 L509.60 539.90 L509.70 539.90 L509.80 539.91 L509.91 539.92 L510.01 539.95 L510.11 539.98 L510.21 540.02 L510.31 540.07 L510.41 540.13 L510.51 540.21 L510.60 540.30 L510.79 540.56 L510.96 540.90 L511.12 541.31 L511.27 541.78 L511.42 542.30 L511.56 542.86 L511.69 543.44 L511.82 544.03 L511.96 544.62 L512.10 545.20 L512.27 546.03 L512.42 546.95 L512.55 547.94 L512.67 548.96 L512.79 550.00 L512.93 551.03 L513.10 552.02 L513.31 552.94 L513.57 553.78 L513.90 554.50 L514.17 554.96 L514.46 555.39 L514.78 555.79 L515.11 556.17 L515.46 556.52 L515.82 556.84 L516.20 557.13 L516.59 557.38 L516.99 557.61 L517.40 557.80 L517.81 557.95 L518.23 558.05 L518.67 558.12 L519.11 558.15 L519.57 558.16 L520.04 558.15 L520.52 558.12 L521.00 558.08 L521.50 558.04 L522.00 558.00 L522.64 557.94 L523.29 557.85 L523.97 557.74 L524.65 557.61 L525.35 557.47 L526.06 557.31 L526.79 557.14 L527.52 556.96 L528.26 556.78 L529.00 556.60 L529.88 556.38 L530.78 556.14 L531.69 555.89 L532.62 555.63 L533.56 555.35 L534.51 555.07 L535.47 554.78 L536.44 554.49 L537.42 554.20 L538.40 553.90 L539.52 553.56 L540.66 553.21 L541.82 552.85 L542.99 552.48 L544.18 552.10 L545.36 551.73 L546.54 551.36 L547.71 550.99 L548.87 550.64 L550.00 550.30 L550.98 550.01 L551.87 549.76 L552.71 549.52 L553.53 549.29 L554.36 549.05 L555.25 548.81 L556.22 548.54 L557.32 548.24 L558.56 547.90 L560.00 547.50 L567.15 545.52 L577.61 542.63 L590.48 539.07 L604.88 535.10 L619.93 530.94 L634.74 526.86 L648.41 523.09 L660.07 519.88 L668.83 517.47 L673.80 516.10 L674.15 516.00 L674.45 515.92 L674.70 515.85 L674.92 515.79 L675.11 515.74 L675.28 515.70 L675.44 515.65 L675.61 515.61 L675.79 515.56 L676.00 515.50" fill="none" stroke="#000" stroke-width="2.00" stroke-linejoin="round"/>
<path d="M470.00 563.30 L470.98 563.30 L471.95 563.30 L472.89 563.29 L473.84 563.29 L474.79 563.29 L475.75 563.29 L476.75 563.29 L477.78 563.29 L478.86 563.29 L480.00 563.30 L481.72 563.32 L483.55 563.34 L485.47 563.36 L487.46 563.40 L489.51 563.43 L491.60 563.46 L493.71 563.50 L495.83 563.54 L497.93 563.57 L500.00 563.60 L502.23 563.66 L504.60 563.77 L507.05 563.91 L509.52 564.06 L511.98 564.19 L514.35 564.28 L516.59 564.32 L518.65 564.29 L520.47 564.15 L522.00 563.90 L522.63 563.73 L523.19 563.54 L523.69 563.34 L524.15 563.11 L524.58 562.87 L524.99 562.61 L525.39 562.35 L525.80 562.07 L526.23 561.79 L526.70 561.50 L527.27 561.15 L527.84 560.79 L528.42 560.42 L529.00 560.03 L529.58 559.63 L530.17 559.21 L530.77 558.78 L531.37 558.34 L531.98 557.88 L532.60 557.40 L533.37 556.79 L534.15 556.15 L534.94 555.49 L535.75 554.80 L536.56 554.09 L537.38 553.37 L538.20 552.64 L539.03 551.89 L539.87 551.15 L540.70 550.40 L541.62 549.58 L542.54 548.74 L543.48 547.89 L544.42 547.03 L545.36 546.17 L546.31 545.29 L547.26 544.40 L548.21 543.51 L549.15 542.61 L550.10 541.70 L551.05 540.78 L551.95 539.92 L552.81 539.08 L553.67 538.24 L554.54 537.38 L555.46 536.46 L556.44 535.47 L557.51 534.38 L558.68 533.17 L560.00 531.80 L564.26 527.27 L569.77 521.31 L576.21 514.27 L583.27 506.52 L590.65 498.41 L598.02 490.30 L605.10 482.54 L611.56 475.50 L617.10 469.54 L621.40 465.00 L622.72 463.66 L623.85 462.53 L624.85 461.57 L625.76 460.71 L626.61 459.92 L627.45 459.13 L628.33 458.30 L629.29 457.37 L630.36 456.29 L631.60 455.00 L634.92 451.41 L639.09 446.79 L643.87 441.41 L649.00 435.58 L654.26 429.57 L659.39 423.69 L664.15 418.22 L668.30 413.46 L671.60 409.69 L673.80 407.20 L674.13 406.83 L674.41 406.52 L674.66 406.25 L674.87 406.02 L675.07 405.81 L675.25 405.61 L675.43 405.42 L675.60 405.23 L675.79 405.03 L676.00 404.80" fill="none" stroke="#000" stroke-width="2.00" stroke-dasharray="10.75 2.69 1.68 2.69"/>
</g>
<rect x="428.90" y="336.50" width="244.90" height="244.75" fill="none" stroke="#000" stroke-width="0.9"/>
<path d="M428.90 581.25V585.25M477.88 581.25V585.25M526.86 581.25V585.25M575.84 581.25V585.25M624.82 581.25V585.25M673.80 581.25V585.25M428.90 581.25H424.90M428.90 526.86H424.90M428.90 472.47H424.90M428.90 418.08H424.90M428.90 363.69H424.90" stroke="#000" stroke-width="0.9" fill="none"/>
<path d="M443.64 581.25V583.55M452.27 581.25V583.55M458.39 581.25V583.55M463.14 581.25V583.55M467.01 581.25V583.55M470.29 581.25V583.55M473.13 581.25V583.55M475.64 581.25V583.55M492.62 581.25V583.55M501.25 581.25V583.55M507.37 581.25V583.55M512.12 581.25V583.55M515.99 581.25V583.55M519.27 581.25V583.55M522.11 581.25V583.55M524.62 581.25V583.55M541.60 581.25V583.55M550.23 581.25V583.55M556.35 581.25V583.55M561.10 581.25V583.55M564.97 581.25V583.55M568.25 581.25V583.55M571.09 581.25V583.55M573.60 581.25V583.55M590.58 581.25V583.55M599.21 581.25V583.55M605.33 581.25V583.55M610.08 581.25V583.55M613.95 581.25V583.55M617.23 581.25V583.55M620.07 581.25V583.55M622.58 581.25V583.55M639.56 581.25V583.55M648.19 581.25V583.55M654.31 581.25V583.55M659.06 581.25V583.55M662.93 581.25V583.55M666.21 581.25V583.55M669.05 581.25V583.55M671.56 581.25V583.55" stroke="#000" stroke-width="0.7" fill="none"/>
<text transform="translate(68.51,281.60) scale(0.950,1)" style="font-family:'Liberation Serif',serif;font-size:19.0px">10</text>
<text transform="translate(86.41,274.80) scale(0.920,1)" style="font-family:'Liberation Serif',serif;font-size:13.2px">0</text>
<text transform="translate(117.07,281.60) scale(0.950,1)" style="font-family:'Liberation Serif',serif;font-size:19.0px">10</text>
<text transform="translate(134.37,274.80) scale(0.920,1)" style="font-family:'Liberation Serif',serif;font-size:13.2px">1</text>
<text transform="translate(165.63,281.60) scale(0.950,1)" style="font-family:'Liberation Serif',serif;font-size:19.0px">10</text>
<text transform="translate(183.46,274.80) scale(0.920,1)" style="font-family:'Liberation Serif',serif;font-size:13.2px">2</text>
<text transform="translate(214.19,281.60) scale(0.950,1)" style="font-family:'Liberation Serif',serif;font-size:19.0px">10</text>
<text transform="translate(231.97,274.80) scale(0.920,1)" style="font-family:'Liberation Serif',serif;font-size:13.2px">3</text>
<text transform="translate(262.75,281.60) scale(0.950,1)" style="font-family:'Liberation Serif',serif;font-size:19.0px">10</text>
<text transform="translate(280.87,274.80) scale(0.920,1)" style="font-family:'Liberation Serif',serif;font-size:13.2px">4</text>
<text transform="translate(311.31,281.60) scale(0.950,1)" style="font-family:'Liberation Serif',serif;font-size:19.0px">10</text>
<text transform="translate(328.97,274.80) scale(0.920,1)" style="font-family:'Liberation Serif',serif;font-size:13.2px">5</text>
<text transform="translate(64.20,219.56) scale(0.920,1)" style="font-family:'Liberation Serif',serif;font-size:13.2px">2</text>
<text transform="translate(46.37,226.36) scale(0.950,1)" style="font-family:'Liberation Serif',serif;font-size:19.0px">10</text>
<text transform="translate(64.00,150.64) scale(0.920,1)" style="font-family:'Liberation Serif',serif;font-size:13.2px">3</text>
<text transform="translate(46.22,157.44) scale(0.950,1)" style="font-family:'Liberation Serif',serif;font-size:19.0px">10</text>
<text transform="translate(63.72,81.72) scale(0.920,1)" style="font-family:'Liberation Serif',serif;font-size:13.2px">4</text>
<text transform="translate(45.60,88.52) scale(0.950,1)" style="font-family:'Liberation Serif',serif;font-size:19.0px">10</text>
<text transform="translate(64.00,12.80) scale(0.920,1)" style="font-family:'Liberation Serif',serif;font-size:13.2px">5</text>
<text transform="translate(46.34,19.60) scale(0.950,1)" style="font-family:'Liberation Serif',serif;font-size:19.0px">10</text>
<text transform="translate(157.66,305.20) scale(1.1200,1)" style="font-family:'Liberation Serif',serif;font-style:italic;font-size:22.28px;font-kerning:none">m</text>
<text transform="translate(178.15,308.18) scale(1.0473,1)" style="font-family:'Liberation Serif',serif;font-style:italic;font-size:16.07px;font-kerning:none">χ</text>
<text transform="translate(198.06,305.34) scale(0.7861,1)" style="font-family:'Liberation Sans',sans-serif;font-size:23.92px;font-kerning:none">[GeV]</text>
<text transform="translate(416.51,280.50) scale(0.950,1)" style="font-family:'Liberation Serif',serif;font-size:19.0px">10</text>
<text transform="translate(434.41,273.70) scale(0.920,1)" style="font-family:'Liberation Serif',serif;font-size:13.2px">0</text>
<text transform="translate(465.49,280.50) scale(0.950,1)" style="font-family:'Liberation Serif',serif;font-size:19.0px">10</text>
<text transform="translate(482.79,273.70) scale(0.920,1)" style="font-family:'Liberation Serif',serif;font-size:13.2px">1</text>
<text transform="translate(514.47,280.50) scale(0.950,1)" style="font-family:'Liberation Serif',serif;font-size:19.0px">10</text>
<text transform="translate(532.30,273.70) scale(0.920,1)" style="font-family:'Liberation Serif',serif;font-size:13.2px">2</text>
<text transform="translate(563.45,280.50) scale(0.950,1)" style="font-family:'Liberation Serif',serif;font-size:19.0px">10</text>
<text transform="translate(581.23,273.70) scale(0.920,1)" style="font-family:'Liberation Serif',serif;font-size:13.2px">3</text>
<text transform="translate(612.43,280.50) scale(0.950,1)" style="font-family:'Liberation Serif',serif;font-size:19.0px">10</text>
<text transform="translate(630.55,273.70) scale(0.920,1)" style="font-family:'Liberation Serif',serif;font-size:13.2px">4</text>
<text transform="translate(661.41,280.50) scale(0.950,1)" style="font-family:'Liberation Serif',serif;font-size:19.0px">10</text>
<text transform="translate(679.07,273.70) scale(0.920,1)" style="font-family:'Liberation Serif',serif;font-size:13.2px">5</text>
<text transform="translate(412.20,218.30) scale(0.920,1)" style="font-family:'Liberation Serif',serif;font-size:13.2px">2</text>
<text transform="translate(394.37,225.10) scale(0.950,1)" style="font-family:'Liberation Serif',serif;font-size:19.0px">10</text>
<text transform="translate(412.00,149.07) scale(0.920,1)" style="font-family:'Liberation Serif',serif;font-size:13.2px">3</text>
<text transform="translate(394.22,155.87) scale(0.950,1)" style="font-family:'Liberation Serif',serif;font-size:19.0px">10</text>
<text transform="translate(411.72,79.83) scale(0.920,1)" style="font-family:'Liberation Serif',serif;font-size:13.2px">4</text>
<text transform="translate(393.60,86.63) scale(0.950,1)" style="font-family:'Liberation Serif',serif;font-size:19.0px">10</text>
<text transform="translate(412.00,10.60) scale(0.920,1)" style="font-family:'Liberation Serif',serif;font-size:13.2px">5</text>
<text transform="translate(394.34,17.40) scale(0.950,1)" style="font-family:'Liberation Serif',serif;font-size:19.0px">10</text>
<text transform="translate(506.71,304.10) scale(1.1200,1)" style="font-family:'Liberation Serif',serif;font-style:italic;font-size:22.28px;font-kerning:none">m</text>
<text transform="translate(527.20,307.08) scale(1.0473,1)" style="font-family:'Liberation Serif',serif;font-style:italic;font-size:16.07px;font-kerning:none">χ</text>
<text transform="translate(547.11,304.24) scale(0.7861,1)" style="font-family:'Liberation Sans',sans-serif;font-size:23.92px;font-kerning:none">[GeV]</text>
<text transform="translate(63.11,605.50) scale(0.950,1)" style="font-family:'Liberation Serif',serif;font-size:19.0px">10</text>
<text transform="translate(81.01,598.70) scale(0.920,1)" style="font-family:'Liberation Serif',serif;font-size:13.2px">0</text>
<text transform="translate(112.75,605.50) scale(0.950,1)" style="font-family:'Liberation Serif',serif;font-size:19.0px">10</text>
<text transform="translate(130.05,598.70) scale(0.920,1)" style="font-family:'Liberation Serif',serif;font-size:13.2px">1</text>
<text transform="translate(162.39,605.50) scale(0.950,1)" style="font-family:'Liberation Serif',serif;font-size:19.0px">10</text>
<text transform="translate(180.22,598.70) scale(0.920,1)" style="font-family:'Liberation Serif',serif;font-size:13.2px">2</text>
<text transform="translate(212.03,605.50) scale(0.950,1)" style="font-family:'Liberation Serif',serif;font-size:19.0px">10</text>
<text transform="translate(229.81,598.70) scale(0.920,1)" style="font-family:'Liberation Serif',serif;font-size:13.2px">3</text>
<text transform="translate(261.67,605.50) scale(0.950,1)" style="font-family:'Liberation Serif',serif;font-size:19.0px">10</text>
<text transform="translate(279.79,598.70) scale(0.920,1)" style="font-family:'Liberation Serif',serif;font-size:13.2px">4</text>
<text transform="translate(311.31,605.50) scale(0.950,1)" style="font-family:'Liberation Serif',serif;font-size:19.0px">10</text>
<text transform="translate(328.97,598.70) scale(0.920,1)" style="font-family:'Liberation Serif',serif;font-size:13.2px">5</text>
<text transform="translate(58.60,579.50) scale(0.920,1)" style="font-family:'Liberation Serif',serif;font-size:13.2px">3</text>
<text transform="translate(40.82,586.30) scale(0.950,1)" style="font-family:'Liberation Serif',serif;font-size:19.0px">10</text>
<text transform="translate(58.32,529.98) scale(0.920,1)" style="font-family:'Liberation Serif',serif;font-size:13.2px">4</text>
<text transform="translate(40.20,536.78) scale(0.950,1)" style="font-family:'Liberation Serif',serif;font-size:19.0px">10</text>
<text transform="translate(58.60,480.46) scale(0.920,1)" style="font-family:'Liberation Serif',serif;font-size:13.2px">5</text>
<text transform="translate(40.94,487.26) scale(0.950,1)" style="font-family:'Liberation Serif',serif;font-size:19.0px">10</text>
<text transform="translate(58.49,430.94) scale(0.920,1)" style="font-family:'Liberation Serif',serif;font-size:13.2px">6</text>
<text transform="translate(40.65,437.74) scale(0.950,1)" style="font-family:'Liberation Serif',serif;font-size:19.0px">10</text>
<text transform="translate(58.48,381.42) scale(0.920,1)" style="font-family:'Liberation Serif',serif;font-size:13.2px">7</text>
<text transform="translate(40.92,388.22) scale(0.950,1)" style="font-family:'Liberation Serif',serif;font-size:19.0px">10</text>
<text transform="translate(58.59,331.90) scale(0.920,1)" style="font-family:'Liberation Serif',serif;font-size:13.2px">8</text>
<text transform="translate(40.69,338.70) scale(0.950,1)" style="font-family:'Liberation Serif',serif;font-size:19.0px">10</text>
<text transform="translate(154.96,629.10) scale(1.1200,1)" style="font-family:'Liberation Serif',serif;font-style:italic;font-size:22.28px;font-kerning:none">m</text>
<text transform="translate(175.45,632.08) scale(1.0473,1)" style="font-family:'Liberation Serif',serif;font-style:italic;font-size:16.07px;font-kerning:none">χ</text>
<text transform="translate(195.36,629.24) scale(0.7861,1)" style="font-family:'Liberation Sans',sans-serif;font-size:23.92px;font-kerning:none">[GeV]</text>
<text transform="translate(416.71,607.55) scale(0.950,1)" style="font-family:'Liberation Serif',serif;font-size:19.0px">10</text>
<text transform="translate(434.61,600.75) scale(0.920,1)" style="font-family:'Liberation Serif',serif;font-size:13.2px">0</text>
<text transform="translate(465.69,607.55) scale(0.950,1)" style="font-family:'Liberation Serif',serif;font-size:19.0px">10</text>
<text transform="translate(482.99,600.75) scale(0.920,1)" style="font-family:'Liberation Serif',serif;font-size:13.2px">1</text>
<text transform="translate(514.67,607.55) scale(0.950,1)" style="font-family:'Liberation Serif',serif;font-size:19.0px">10</text>
<text transform="translate(532.50,600.75) scale(0.920,1)" style="font-family:'Liberation Serif',serif;font-size:13.2px">2</text>
<text transform="translate(563.65,607.55) scale(0.950,1)" style="font-family:'Liberation Serif',serif;font-size:19.0px">10</text>
<text transform="translate(581.43,600.75) scale(0.920,1)" style="font-family:'Liberation Serif',serif;font-size:13.2px">3</text>
<text transform="translate(612.63,607.55) scale(0.950,1)" style="font-family:'Liberation Serif',serif;font-size:19.0px">10</text>
<text transform="translate(630.75,600.75) scale(0.920,1)" style="font-family:'Liberation Serif',serif;font-size:13.2px">4</text>
<text transform="translate(661.61,607.55) scale(0.950,1)" style="font-family:'Liberation Serif',serif;font-size:19.0px">10</text>
<text transform="translate(679.27,600.75) scale(0.920,1)" style="font-family:'Liberation Serif',serif;font-size:13.2px">5</text>
<text transform="translate(412.40,581.55) scale(0.920,1)" style="font-family:'Liberation Serif',serif;font-size:13.2px">2</text>
<text transform="translate(394.57,588.35) scale(0.950,1)" style="font-family:'Liberation Serif',serif;font-size:19.0px">10</text>
<text transform="translate(411.92,527.16) scale(0.920,1)" style="font-family:'Liberation Serif',serif;font-size:13.2px">4</text>
<text transform="translate(393.80,533.96) scale(0.950,1)" style="font-family:'Liberation Serif',serif;font-size:19.0px">10</text>
<text transform="translate(412.09,472.77) scale(0.920,1)" style="font-family:'Liberation Serif',serif;font-size:13.2px">6</text>
<text transform="translate(394.25,479.57) scale(0.950,1)" style="font-family:'Liberation Serif',serif;font-size:19.0px">10</text>
<text transform="translate(412.19,418.38) scale(0.920,1)" style="font-family:'Liberation Serif',serif;font-size:13.2px">8</text>
<text transform="translate(394.29,425.18) scale(0.950,1)" style="font-family:'Liberation Serif',serif;font-size:19.0px">10</text>
<text transform="translate(406.12,363.99) scale(0.920,1)" style="font-family:'Liberation Serif',serif;font-size:13.2px">10</text>
<text transform="translate(388.82,370.79) scale(0.950,1)" style="font-family:'Liberation Serif',serif;font-size:19.0px">10</text>
<text transform="translate(506.91,631.15) scale(1.1200,1)" style="font-family:'Liberation Serif',serif;font-style:italic;font-size:22.28px;font-kerning:none">m</text>
<text transform="translate(527.40,634.13) scale(1.0473,1)" style="font-family:'Liberation Serif',serif;font-style:italic;font-size:16.07px;font-kerning:none">χ</text>
<text transform="translate(547.31,631.29) scale(0.7861,1)" style="font-family:'Liberation Sans',sans-serif;font-size:23.92px;font-kerning:none">[GeV]</text>
<text transform="translate(20.21,139.38) rotate(-90) scale(0.8387,1)" style="font-family:'Liberation Sans',sans-serif;font-size:23.07px;font-kerning:none">[GeV]</text>
<line x1="14.50" y1="148.00" x2="14.50" y2="177.70" stroke="#000" stroke-width="0.9"/>
<text transform="translate(11.60,167.73) rotate(-90) scale(0.7623,1)" style="font-family:'Liberation Serif',serif;font-size:17.12px;font-kerning:none">Λ</text>
<text transform="translate(32.94,177.35) rotate(-90) scale(0.8636,1)" style="font-family:'Liberation Serif',serif;font-style:italic;font-size:17.72px;font-kerning:none">C</text>
<text transform="translate(26.55,165.69) rotate(-90) scale(0.8627,1)" style="font-family:'Liberation Serif',serif;font-size:15.63px;font-kerning:none">1/2</text>
<text transform="translate(38.00,166.02) rotate(-90) scale(0.9524,1)" style="font-family:'Liberation Serif',serif;font-style:italic;font-size:13.03px;font-kerning:none">A</text>
<text transform="translate(372.36,137.66) rotate(-90) scale(0.7706,1)" style="font-family:'Liberation Sans',sans-serif;font-size:24.78px;font-kerning:none">[GeV]</text>
<line x1="365.50" y1="147.00" x2="365.50" y2="176.70" stroke="#000" stroke-width="0.9"/>
<text transform="translate(363.00,166.74) rotate(-90) scale(0.7910,1)" style="font-family:'Liberation Serif',serif;font-size:17.57px;font-kerning:none">Λ</text>
<text transform="translate(384.63,176.41) rotate(-90) scale(0.8883,1)" style="font-family:'Liberation Serif',serif;font-style:italic;font-size:18.32px;font-kerning:none">C</text>
<text transform="translate(377.84,165.03) rotate(-90) scale(0.8798,1)" style="font-family:'Liberation Serif',serif;font-size:15.93px;font-kerning:none">1/2</text>
<text transform="translate(385.61,165.36) rotate(-90) scale(1.2206,1)" style="font-family:'Liberation Serif',serif;font-style:italic;font-size:9.56px;font-kerning:none">cr</text>
<text transform="translate(21.13,462.98) rotate(-90) scale(0.7756,1)" style="font-family:'Liberation Sans',sans-serif;font-size:24.89px;font-kerning:none">[GeV]</text>
<line x1="14.90" y1="472.40" x2="14.90" y2="497.80" stroke="#000" stroke-width="0.9"/>
<text transform="translate(12.00,490.03) rotate(-90) scale(0.7682,1)" style="font-family:'Liberation Serif',serif;font-size:17.72px;font-kerning:none">Λ</text>
<text transform="translate(28.73,497.54) rotate(-90) scale(0.9466,1)" style="font-family:'Liberation Serif',serif;font-style:italic;font-size:17.87px;font-kerning:none">C</text>
<text transform="translate(31.80,486.53) rotate(-90) scale(1.0783,1)" style="font-family:'Liberation Serif',serif;font-style:italic;font-size:13.74px;font-kerning:none">M</text>
<text transform="translate(371.61,469.25) rotate(-90) scale(0.7878,1)" style="font-family:'Liberation Sans',sans-serif;font-size:24.03px;font-kerning:none">[GeV]</text>
<line x1="365.40" y1="477.80" x2="365.40" y2="497.70" stroke="#000" stroke-width="0.9"/>
<text transform="translate(362.30,492.22) rotate(-90) scale(0.7338,1)" style="font-family:'Liberation Serif',serif;font-size:16.81px;font-kerning:none">Λ</text>
<text transform="translate(378.74,497.74) rotate(-90) scale(1.0052,1)" style="font-family:'Liberation Serif',serif;font-style:italic;font-size:16.83px;font-kerning:none">C</text>
<text transform="translate(381.48,486.64) rotate(-90) scale(0.9033,1)" style="font-family:'Liberation Serif',serif;font-style:italic;font-size:12.08px;font-kerning:none">el</text>
<rect x="89.00" y="20.60" width="80.4" height="50.3" rx="2.5" fill="#fff" fill-opacity="0.8" stroke="#cccccc" stroke-opacity="0.8" stroke-width="0.9"/>
<line x1="94.20" y1="33.30" x2="127.40" y2="33.30" stroke="#000" stroke-width="2.00"/>
<line x1="94.20" y1="56.50" x2="127.40" y2="56.50" stroke="#000" stroke-width="2.00" stroke-dasharray="10.75 2.69 1.68 2.69"/>
<text transform="translate(139.32,36.85) scale(1.1978,1)" style="font-family:'Liberation Serif',serif;font-style:italic;font-size:16.42px;font-kerning:none">B</text>
<text transform="translate(149.91,39.18) scale(1.2589,1)" style="font-family:'Liberation Serif',serif;font-style:italic;font-size:10.40px;font-kerning:none">μν</text>
<text transform="translate(140.01,60.40) scale(1.1404,1)" style="font-family:'Liberation Serif',serif;font-style:italic;font-size:17.41px;font-kerning:none">F</text>
<text transform="translate(150.91,62.18) scale(1.1780,1)" style="font-family:'Liberation Serif',serif;font-style:italic;font-size:10.85px;font-kerning:none">μν</text>
<rect x="584.70" y="195.80" width="80.4" height="50.3" rx="2.5" fill="#fff" fill-opacity="0.8" stroke="#cccccc" stroke-opacity="0.8" stroke-width="0.9"/>
<line x1="589.90" y1="208.50" x2="623.10" y2="208.50" stroke="#000" stroke-width="2.00"/>
<line x1="589.90" y1="231.70" x2="623.10" y2="231.70" stroke="#000" stroke-width="2.00" stroke-dasharray="10.75 2.69 1.68 2.69"/>
<text transform="translate(635.02,212.05) scale(1.1978,1)" style="font-family:'Liberation Serif',serif;font-style:italic;font-size:16.42px;font-kerning:none">B</text>
<text transform="translate(645.61,214.38) scale(1.2589,1)" style="font-family:'Liberation Serif',serif;font-style:italic;font-size:10.40px;font-kerning:none">μν</text>
<text transform="translate(635.71,235.60) scale(1.1404,1)" style="font-family:'Liberation Serif',serif;font-style:italic;font-size:17.41px;font-kerning:none">F</text>
<text transform="translate(646.61,237.38) scale(1.1780,1)" style="font-family:'Liberation Serif',serif;font-style:italic;font-size:10.85px;font-kerning:none">μν</text>
</svg>
</body></html>
